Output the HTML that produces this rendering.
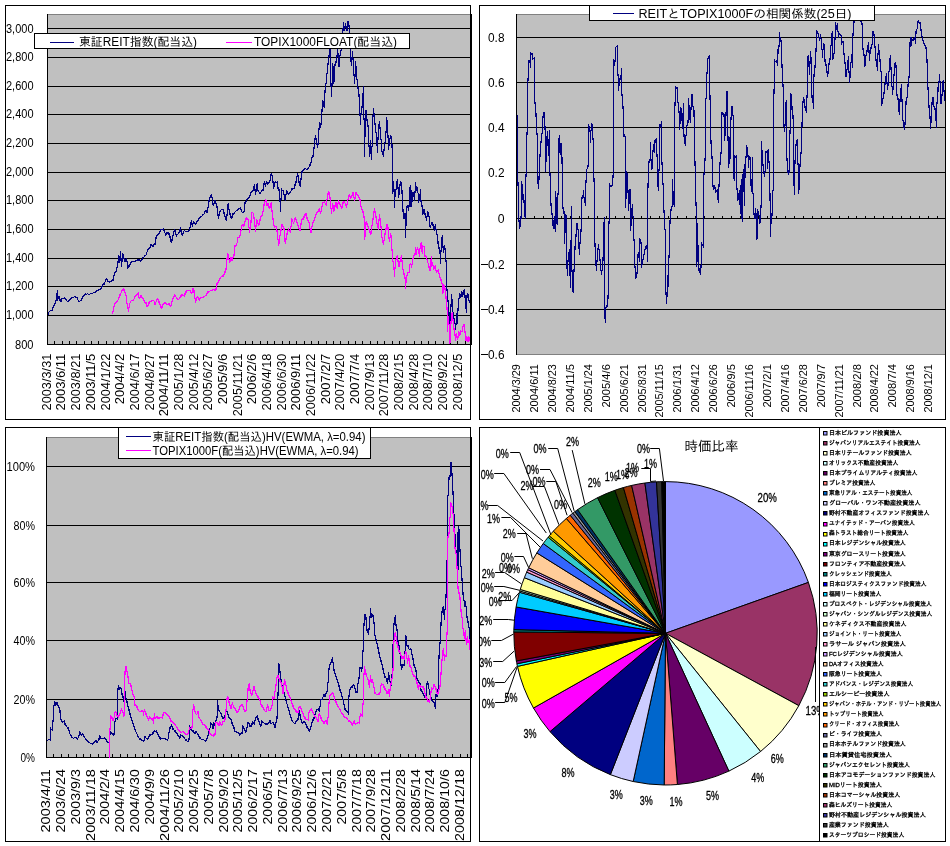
<!DOCTYPE html>
<html lang="ja">
<head>
<meta charset="utf-8">
<title>J-REIT チャート</title>
<style>
html,body{margin:0;padding:0;background:#fff;}
body{width:950px;height:846px;overflow:hidden;}
svg{display:block;font-family:"Liberation Sans","IPAGothic","Noto Sans CJK JP",sans-serif;}
</style>
</head>
<body>
<svg width="950" height="846" viewBox="0 0 950 846">
<rect x="0" y="0" width="950" height="846" fill="#fff"/>
<g id="chart1">
<rect x="5.5" y="5.5" width="465" height="414" fill="#fff" stroke="#000" stroke-width="1"/>
<rect x="47" y="14" width="424" height="331" fill="#c0c0c0"/>
<rect x="47" y="14" width="424" height="1" fill="#808080"/>
<rect x="470" y="5" width="1" height="415" fill="#000"/>
<rect x="471" y="14" width="1" height="331" fill="#000"/>
<rect x="47" y="28" width="424" height="1" fill="#000"/>
<text x="33.5" y="32.9" font-size="12" text-anchor="end" fill="#000" textLength="27.5" lengthAdjust="spacingAndGlyphs" >3,000</text>
<rect x="47" y="57" width="424" height="1" fill="#000"/>
<text x="33.5" y="61.1" font-size="12" text-anchor="end" fill="#000" textLength="27.5" lengthAdjust="spacingAndGlyphs" >2,800</text>
<rect x="47" y="86" width="424" height="1" fill="#000"/>
<text x="33.5" y="90.1" font-size="12" text-anchor="end" fill="#000" textLength="27.5" lengthAdjust="spacingAndGlyphs" >2,600</text>
<rect x="47" y="114" width="424" height="1" fill="#000"/>
<text x="33.5" y="118.1" font-size="12" text-anchor="end" fill="#000" textLength="27.5" lengthAdjust="spacingAndGlyphs" >2,400</text>
<rect x="47" y="143" width="424" height="1" fill="#000"/>
<text x="33.5" y="147.1" font-size="12" text-anchor="end" fill="#000" textLength="27.5" lengthAdjust="spacingAndGlyphs" >2,200</text>
<rect x="47" y="172" width="424" height="1" fill="#000"/>
<text x="33.5" y="176.1" font-size="12" text-anchor="end" fill="#000" textLength="27.5" lengthAdjust="spacingAndGlyphs" >2,000</text>
<rect x="47" y="200" width="424" height="1" fill="#000"/>
<text x="33.5" y="204.1" font-size="12" text-anchor="end" fill="#000" textLength="27.5" lengthAdjust="spacingAndGlyphs" >1,800</text>
<rect x="47" y="229" width="424" height="1" fill="#000"/>
<text x="33.5" y="233.1" font-size="12" text-anchor="end" fill="#000" textLength="27.5" lengthAdjust="spacingAndGlyphs" >1,600</text>
<rect x="47" y="258" width="424" height="1" fill="#000"/>
<text x="33.5" y="262.1" font-size="12" text-anchor="end" fill="#000" textLength="27.5" lengthAdjust="spacingAndGlyphs" >1,400</text>
<rect x="47" y="286" width="424" height="1" fill="#000"/>
<text x="33.5" y="290.1" font-size="12" text-anchor="end" fill="#000" textLength="27.5" lengthAdjust="spacingAndGlyphs" >1,200</text>
<rect x="47" y="315" width="424" height="1" fill="#000"/>
<text x="33.5" y="319.1" font-size="12" text-anchor="end" fill="#000" textLength="27.5" lengthAdjust="spacingAndGlyphs" >1,000</text>
<rect x="47" y="344" width="424" height="1" fill="#000"/>
<text x="33.5" y="349.0" font-size="12" text-anchor="end" fill="#000" textLength="18.5" lengthAdjust="spacingAndGlyphs" >800</text>
<rect x="47" y="14" width="1" height="331" fill="#000"/>
<rect x="54" y="341" width="1" height="3" fill="#000"/>
<rect x="62" y="341" width="1" height="3" fill="#000"/>
<rect x="69" y="341" width="1" height="3" fill="#000"/>
<rect x="76" y="341" width="1" height="3" fill="#000"/>
<rect x="84" y="341" width="1" height="3" fill="#000"/>
<rect x="91" y="341" width="1" height="3" fill="#000"/>
<rect x="98" y="341" width="1" height="3" fill="#000"/>
<rect x="106" y="341" width="1" height="3" fill="#000"/>
<rect x="113" y="341" width="1" height="3" fill="#000"/>
<rect x="120" y="341" width="1" height="3" fill="#000"/>
<rect x="128" y="341" width="1" height="3" fill="#000"/>
<rect x="135" y="341" width="1" height="3" fill="#000"/>
<rect x="142" y="341" width="1" height="3" fill="#000"/>
<rect x="150" y="341" width="1" height="3" fill="#000"/>
<rect x="157" y="341" width="1" height="3" fill="#000"/>
<rect x="164" y="341" width="1" height="3" fill="#000"/>
<rect x="172" y="341" width="1" height="3" fill="#000"/>
<rect x="179" y="341" width="1" height="3" fill="#000"/>
<rect x="186" y="341" width="1" height="3" fill="#000"/>
<rect x="194" y="341" width="1" height="3" fill="#000"/>
<rect x="201" y="341" width="1" height="3" fill="#000"/>
<rect x="208" y="341" width="1" height="3" fill="#000"/>
<rect x="216" y="341" width="1" height="3" fill="#000"/>
<rect x="223" y="341" width="1" height="3" fill="#000"/>
<rect x="230" y="341" width="1" height="3" fill="#000"/>
<rect x="238" y="341" width="1" height="3" fill="#000"/>
<rect x="245" y="341" width="1" height="3" fill="#000"/>
<rect x="252" y="341" width="1" height="3" fill="#000"/>
<rect x="260" y="341" width="1" height="3" fill="#000"/>
<rect x="267" y="341" width="1" height="3" fill="#000"/>
<rect x="274" y="341" width="1" height="3" fill="#000"/>
<rect x="282" y="341" width="1" height="3" fill="#000"/>
<rect x="289" y="341" width="1" height="3" fill="#000"/>
<rect x="296" y="341" width="1" height="3" fill="#000"/>
<rect x="304" y="341" width="1" height="3" fill="#000"/>
<rect x="311" y="341" width="1" height="3" fill="#000"/>
<rect x="318" y="341" width="1" height="3" fill="#000"/>
<rect x="326" y="341" width="1" height="3" fill="#000"/>
<rect x="333" y="341" width="1" height="3" fill="#000"/>
<rect x="340" y="341" width="1" height="3" fill="#000"/>
<rect x="348" y="341" width="1" height="3" fill="#000"/>
<rect x="355" y="341" width="1" height="3" fill="#000"/>
<rect x="362" y="341" width="1" height="3" fill="#000"/>
<rect x="370" y="341" width="1" height="3" fill="#000"/>
<rect x="377" y="341" width="1" height="3" fill="#000"/>
<rect x="384" y="341" width="1" height="3" fill="#000"/>
<rect x="392" y="341" width="1" height="3" fill="#000"/>
<rect x="399" y="341" width="1" height="3" fill="#000"/>
<rect x="406" y="341" width="1" height="3" fill="#000"/>
<rect x="414" y="341" width="1" height="3" fill="#000"/>
<rect x="421" y="341" width="1" height="3" fill="#000"/>
<rect x="428" y="341" width="1" height="3" fill="#000"/>
<rect x="435" y="341" width="1" height="3" fill="#000"/>
<rect x="443" y="341" width="1" height="3" fill="#000"/>
<rect x="450" y="341" width="1" height="3" fill="#000"/>
<rect x="457" y="341" width="1" height="3" fill="#000"/>
<rect x="465" y="341" width="1" height="3" fill="#000"/>
<text transform="translate(50.78,353.70) rotate(-90)" font-size="13" text-anchor="end" textLength="56.7" lengthAdjust="spacingAndGlyphs">2003/3/31</text>
<text transform="translate(65.46,353.70) rotate(-90)" font-size="13" text-anchor="end" textLength="56.7" lengthAdjust="spacingAndGlyphs">2003/6/11</text>
<text transform="translate(80.14,353.70) rotate(-90)" font-size="13" text-anchor="end" textLength="56.7" lengthAdjust="spacingAndGlyphs">2003/8/21</text>
<text transform="translate(94.82,353.70) rotate(-90)" font-size="13" text-anchor="end" textLength="56.7" lengthAdjust="spacingAndGlyphs">2003/11/5</text>
<text transform="translate(109.50,353.70) rotate(-90)" font-size="13" text-anchor="end" textLength="56.7" lengthAdjust="spacingAndGlyphs">2004/1/22</text>
<text transform="translate(124.18,353.70) rotate(-90)" font-size="13" text-anchor="end" textLength="50.5" lengthAdjust="spacingAndGlyphs">2004/4/2</text>
<text transform="translate(138.86,353.70) rotate(-90)" font-size="13" text-anchor="end" textLength="56.7" lengthAdjust="spacingAndGlyphs">2004/6/17</text>
<text transform="translate(153.54,353.70) rotate(-90)" font-size="13" text-anchor="end" textLength="56.7" lengthAdjust="spacingAndGlyphs">2004/8/27</text>
<text transform="translate(168.22,353.70) rotate(-90)" font-size="13" text-anchor="end" textLength="62.6" lengthAdjust="spacingAndGlyphs">2004/11/11</text>
<text transform="translate(182.90,353.70) rotate(-90)" font-size="13" text-anchor="end" textLength="56.7" lengthAdjust="spacingAndGlyphs">2005/1/28</text>
<text transform="translate(197.58,353.70) rotate(-90)" font-size="13" text-anchor="end" textLength="56.7" lengthAdjust="spacingAndGlyphs">2005/4/12</text>
<text transform="translate(212.26,353.70) rotate(-90)" font-size="13" text-anchor="end" textLength="56.7" lengthAdjust="spacingAndGlyphs">2005/6/27</text>
<text transform="translate(226.94,353.70) rotate(-90)" font-size="13" text-anchor="end" textLength="50.5" lengthAdjust="spacingAndGlyphs">2005/9/6</text>
<text transform="translate(241.62,353.70) rotate(-90)" font-size="13" text-anchor="end" textLength="62.6" lengthAdjust="spacingAndGlyphs">2005/11/21</text>
<text transform="translate(256.30,353.70) rotate(-90)" font-size="13" text-anchor="end" textLength="50.5" lengthAdjust="spacingAndGlyphs">2006/2/6</text>
<text transform="translate(270.98,353.70) rotate(-90)" font-size="13" text-anchor="end" textLength="56.7" lengthAdjust="spacingAndGlyphs">2006/4/18</text>
<text transform="translate(285.66,353.70) rotate(-90)" font-size="13" text-anchor="end" textLength="56.7" lengthAdjust="spacingAndGlyphs">2006/6/30</text>
<text transform="translate(300.34,353.70) rotate(-90)" font-size="13" text-anchor="end" textLength="56.7" lengthAdjust="spacingAndGlyphs">2006/9/11</text>
<text transform="translate(315.02,353.70) rotate(-90)" font-size="13" text-anchor="end" textLength="62.6" lengthAdjust="spacingAndGlyphs">2006/11/22</text>
<text transform="translate(329.70,353.70) rotate(-90)" font-size="13" text-anchor="end" textLength="50.5" lengthAdjust="spacingAndGlyphs">2007/2/7</text>
<text transform="translate(344.38,353.70) rotate(-90)" font-size="13" text-anchor="end" textLength="56.7" lengthAdjust="spacingAndGlyphs">2007/4/20</text>
<text transform="translate(359.06,353.70) rotate(-90)" font-size="13" text-anchor="end" textLength="50.5" lengthAdjust="spacingAndGlyphs">2007/7/4</text>
<text transform="translate(373.74,353.70) rotate(-90)" font-size="13" text-anchor="end" textLength="56.7" lengthAdjust="spacingAndGlyphs">2007/9/13</text>
<text transform="translate(388.42,353.70) rotate(-90)" font-size="13" text-anchor="end" textLength="62.6" lengthAdjust="spacingAndGlyphs">2007/11/28</text>
<text transform="translate(403.10,353.70) rotate(-90)" font-size="13" text-anchor="end" textLength="56.7" lengthAdjust="spacingAndGlyphs">2008/2/15</text>
<text transform="translate(417.78,353.70) rotate(-90)" font-size="13" text-anchor="end" textLength="56.7" lengthAdjust="spacingAndGlyphs">2008/4/28</text>
<text transform="translate(432.46,353.70) rotate(-90)" font-size="13" text-anchor="end" textLength="56.7" lengthAdjust="spacingAndGlyphs">2008/7/10</text>
<text transform="translate(447.14,353.70) rotate(-90)" font-size="13" text-anchor="end" textLength="56.7" lengthAdjust="spacingAndGlyphs">2008/9/22</text>
<text transform="translate(461.82,353.70) rotate(-90)" font-size="13" text-anchor="end" textLength="56.7" lengthAdjust="spacingAndGlyphs">2008/12/5</text>
<path d="M48 312v3h1v-3zM49 311v1h1v-1zM50 310v1h1v-1zM51 310v1h1v-1zM52 307v4h1v-4zM53 305v3h1v-3zM54 303v3h1v-3zM55 300v4h1v-4zM56 293v8h1v-8zM57 290v11h1v-11zM58 296v3h1v-3zM59 296v5h1v-5zM60 299v3h1v-3zM61 298v4h1v-4zM62 298v1h1v-1zM63 298v1h1v-1zM64 297v2h1v-2zM65 298v2h1v-2zM66 299v2h1v-2zM67 301v1h1v-1zM68 300v2h1v-2zM69 299v2h1v-2zM70 298v2h1v-2zM71 297v2h1v-2zM72 297v1h1v-1zM73 297v1h1v-1zM74 296v1h1v-1zM75 296v2h1v-2zM76 297v1h1v-1zM77 297v3h1v-3zM78 300v2h1v-2zM79 301v1h1v-1zM80 300v1h1v-1zM81 298v3h1v-3zM82 296v3h1v-3zM83 295v2h1v-2zM84 294v2h1v-2zM85 293v2h1v-2zM86 294v1h1v-1zM87 293v1h1v-1zM88 294v1h1v-1zM89 294v1h1v-1zM90 293v1h1v-1zM91 293v1h1v-1zM92 293v1h1v-1zM93 292v1h1v-1zM94 292v1h1v-1zM95 291v2h1v-2zM96 290v2h1v-2zM97 290v1h1v-1zM98 289v2h1v-2zM99 289v1h1v-1zM100 288v2h1v-2zM101 286v3h1v-3zM102 284v3h1v-3zM103 283v2h1v-2zM104 282v3h1v-3zM105 279v3h1v-3zM106 278v2h1v-2zM107 279v3h1v-3zM108 281v1h1v-1zM109 281v2h1v-2zM110 281v1h1v-1zM111 280v2h1v-2zM112 279v2h1v-2zM113 275v6h1v-6zM114 272v4h1v-4zM115 271v2h1v-2zM116 267v5h1v-5zM117 261v7h1v-7zM118 255v8h1v-8zM119 256v7h1v-7zM120 251v10h1v-10zM121 258v9h1v-9zM122 253v9h1v-9zM123 254v5h1v-5zM124 258v4h1v-4zM125 259v3h1v-3zM126 258v4h1v-4zM127 261v8h1v-8zM128 265v3h1v-3zM129 264v3h1v-3zM130 262v3h1v-3zM131 261v2h1v-2zM132 261v1h1v-1zM133 261v1h1v-1zM134 261v1h1v-1zM135 260v2h1v-2zM136 260v1h1v-1zM137 259v2h1v-2zM138 259v2h1v-2zM139 259v2h1v-2zM140 260v2h1v-2zM141 259v2h1v-2zM142 257v3h1v-3zM143 257v1h1v-1zM144 255v2h1v-2zM145 255v1h1v-1zM146 252v3h1v-3zM147 249v3h1v-3zM148 248v2h1v-2zM149 247v2h1v-2zM150 244v4h1v-4zM151 244v2h1v-2zM152 245v2h1v-2zM153 244v3h1v-3zM154 243v2h1v-2zM155 237v8h1v-8zM156 235v4h1v-4zM157 234v2h1v-2zM158 233v2h1v-2zM159 231v3h1v-3zM160 229v3h1v-3zM161 229v1h1v-1zM162 229v1h1v-1zM163 228v3h1v-3zM164 230v3h1v-3zM165 233v3h1v-3zM166 232v3h1v-3zM167 232v2h1v-2zM168 232v3h1v-3zM169 233v5h1v-5zM170 236v6h1v-6zM171 239v4h1v-4zM172 235v6h1v-6zM173 231v5h1v-5zM174 229v3h1v-3zM175 230v5h1v-5zM176 234v3h1v-3zM177 234v1h1v-1zM178 232v2h1v-2zM179 229v4h1v-4zM180 227v5h1v-5zM181 230v5h1v-5zM182 233v3h1v-3zM183 231v3h1v-3zM184 230v1h1v-1zM185 231v1h1v-1zM186 231v1h1v-1zM187 231v1h1v-1zM188 230v2h1v-2zM189 227v4h1v-4zM190 222v6h1v-6zM191 220v5h1v-5zM192 223v4h1v-4zM193 221v3h1v-3zM194 222v2h1v-2zM195 223v2h1v-2zM196 221v3h1v-3zM197 220v2h1v-2zM198 218v3h1v-3zM199 217v2h1v-2zM200 216v2h1v-2zM201 216v1h1v-1zM202 214v2h1v-2zM203 214v1h1v-1zM204 211v3h1v-3zM205 210v2h1v-2zM206 210v3h1v-3zM207 207v6h1v-6zM208 200v8h1v-8zM209 197v5h1v-5zM210 195v3h1v-3zM211 194v4h1v-4zM212 197v8h1v-8zM213 203v3h1v-3zM214 200v4h1v-4zM215 200v4h1v-4zM216 203v5h1v-5zM217 206v10h1v-10zM218 214v5h1v-5zM219 211v5h1v-5zM220 210v2h1v-2zM221 209v1h1v-1zM222 209v1h1v-1zM223 209v5h1v-5zM224 212v5h1v-5zM225 216v4h1v-4zM226 214v7h1v-7zM227 204v12h1v-12zM228 203v7h1v-7zM229 209v6h1v-6zM230 213v5h1v-5zM231 216v3h1v-3zM232 213v5h1v-5zM233 213v2h1v-2zM234 212v2h1v-2zM235 211v1h1v-1zM236 210v1h1v-1zM237 209v2h1v-2zM238 208v2h1v-2zM239 208v1h1v-1zM240 207v3h1v-3zM241 209v3h1v-3zM242 212v1h1v-1zM243 211v2h1v-2zM244 202v10h1v-10zM245 201v3h1v-3zM246 199v3h1v-3zM247 198v2h1v-2zM248 197v2h1v-2zM249 195v3h1v-3zM250 192v4h1v-4zM251 191v2h1v-2zM252 190v2h1v-2zM253 186v5h1v-5zM254 184v7h1v-7zM255 189v6h1v-6zM256 184v8h1v-8zM257 183v8h1v-8zM258 190v2h1v-2zM259 192v2h1v-2zM260 192v2h1v-2zM261 190v2h1v-2zM262 189v2h1v-2zM263 183v8h1v-8zM264 181v4h1v-4zM265 183v4h1v-4zM266 181v3h1v-3zM267 182v3h1v-3zM268 182v2h1v-2zM269 180v3h1v-3zM270 174v7h1v-7zM271 173v3h1v-3zM272 175v8h1v-8zM273 181v8h1v-8zM274 182v5h1v-5zM275 181v2h1v-2zM276 182v1h1v-1zM277 181v8h1v-8zM278 187v4h1v-4zM279 189v13h1v-13zM280 198v14h1v-14zM281 188v12h1v-12zM282 190v1h1v-1zM283 190v5h1v-5zM284 194v6h1v-6zM285 194v7h1v-7zM286 190v5h1v-5zM287 191v3h1v-3zM288 193v2h1v-2zM289 192v2h1v-2zM290 191v2h1v-2zM291 188v3h1v-3zM292 188v2h1v-2zM293 188v1h1v-1zM294 184v5h1v-5zM295 181v5h1v-5zM296 176v7h1v-7zM297 173v4h1v-4zM298 175v8h1v-8zM299 181v5h1v-5zM300 178v9h1v-9zM301 171v9h1v-9zM302 170v3h1v-3zM303 169v2h1v-2zM304 168v2h1v-2zM305 168v1h1v-1zM306 169v1h1v-1zM307 168v2h1v-2zM308 167v2h1v-2zM309 164v3h1v-3zM310 162v4h1v-4zM311 157v6h1v-6zM312 155v3h1v-3zM313 147v10h1v-10zM314 138v11h1v-11zM315 135v5h1v-5zM316 138v7h1v-7zM317 143v5h1v-5zM318 128v17h1v-17zM319 122v8h1v-8zM320 123v5h1v-5zM321 109v16h1v-16zM322 100v12h1v-12zM323 101v6h1v-6zM324 90v18h1v-18zM325 83v10h1v-10zM326 73v11h1v-11zM327 63v11h1v-11zM328 55v10h1v-10zM329 48v9h1v-9zM330 46v41h1v-41zM331 83v14h1v-14zM332 63v23h1v-23zM333 66v18h1v-18zM334 64v18h1v-18zM335 61v5h1v-5zM336 55v8h1v-8zM337 48v9h1v-9zM338 53v14h1v-14zM339 55v12h1v-12zM340 50v6h1v-6zM341 43v8h1v-8zM342 28v17h1v-17zM343 22v9h1v-9zM344 26v5h1v-5zM345 23v5h1v-5zM346 26v5h1v-5zM347 21v10h1v-10zM348 21v6h1v-6zM349 25v11h1v-11zM350 34v28h1v-28zM351 57v9h1v-9zM352 51v9h1v-9zM353 58v18h1v-18zM354 74v10h1v-10zM355 61v16h1v-16zM356 66v14h1v-14zM357 79v10h1v-10zM358 87v10h1v-10zM359 94v22h1v-22zM360 113v12h1v-12zM361 106v9h1v-9zM362 93v15h1v-15zM363 86v34h1v-34zM364 118v39h1v-39zM365 110v27h1v-27zM366 110v11h1v-11zM367 119v8h1v-8zM368 125v22h1v-22zM369 145v12h1v-12zM370 140v14h1v-14zM371 146v14h1v-14zM372 115v32h1v-32zM373 108v9h1v-9zM374 113v12h1v-12zM375 123v10h1v-10zM376 132v14h1v-14zM377 137v16h1v-16zM378 124v16h1v-16zM379 121v8h1v-8zM380 127v13h1v-13zM381 139v13h1v-13zM382 151v4h1v-4zM383 149v8h1v-8zM384 142v9h1v-9zM385 131v12h1v-12zM386 117v16h1v-16zM387 120v18h1v-18zM388 135v15h1v-15zM389 138v8h1v-8zM390 135v4h1v-4zM391 136v12h1v-12zM392 144v50h1v-50zM393 181v11h1v-11zM394 189v19h1v-19zM395 189v8h1v-8zM396 181v9h1v-9zM397 179v10h1v-10zM398 187v11h1v-11zM399 184v11h1v-11zM400 181v5h1v-5zM401 182v12h1v-12zM402 190v22h1v-22zM403 209v10h1v-10zM404 213v6h1v-6zM405 213v25h1v-25zM406 206v20h1v-20zM407 205v3h1v-3zM408 205v6h1v-6zM409 187v20h1v-20zM410 185v22h1v-22zM411 190v17h1v-17zM412 192v10h1v-10zM413 192v5h1v-5zM414 191v10h1v-10zM415 182v11h1v-11zM416 186v5h1v-5zM417 187v6h1v-6zM418 193v10h1v-10zM419 194v7h1v-7zM420 189v13h1v-13zM421 200v7h1v-7zM422 205v10h1v-10zM423 209v5h1v-5zM424 209v6h1v-6zM425 213v5h1v-5zM426 216v5h1v-5zM427 211v6h1v-6zM428 212v5h1v-5zM429 216v11h1v-11zM430 225v3h1v-3zM431 222v3h1v-3zM432 222v4h1v-4zM433 224v5h1v-5zM434 226v5h1v-5zM435 224v6h1v-6zM436 229v6h1v-6zM437 234v10h1v-10zM438 241v8h1v-8zM439 247v7h1v-7zM440 250v14h1v-14zM441 237v15h1v-15zM442 235v13h1v-13zM443 246v7h1v-7zM444 245v5h1v-5zM445 248v14h1v-14zM446 260v31h1v-31zM447 289v13h1v-13zM448 300v15h1v-15zM449 312v13h1v-13zM450 304v23h1v-23zM451 294v13h1v-13zM452 299v15h1v-15zM453 312v7h1v-7zM454 318v6h1v-6zM455 323v7h1v-7zM456 313v12h1v-12zM457 308v16h1v-16zM458 298v13h1v-13zM459 293v6h1v-6zM460 294v4h1v-4zM461 291v6h1v-6zM462 292v5h1v-5zM463 290v5h1v-5zM464 289v9h1v-9zM465 295v14h1v-14zM466 295v18h1v-18zM467 293v5h1v-5zM468 294v7h1v-7zM469 300v3h1v-3z" fill="#000080" shape-rendering="crispEdges"/>
<path d="M112 311v3h1v-3zM113 306v6h1v-6zM114 303v4h1v-4zM115 302v2h1v-2zM116 301v2h1v-2zM117 300v2h1v-2zM118 297v3h1v-3zM119 294v4h1v-4zM120 293v3h1v-3zM121 290v3h1v-3zM122 289v2h1v-2zM123 288v3h1v-3zM124 289v4h1v-4zM125 292v4h1v-4zM126 295v9h1v-9zM127 303v6h1v-6zM128 307v5h1v-5zM129 303v5h1v-5zM130 301v2h1v-2zM131 300v1h1v-1zM132 300v1h1v-1zM133 299v2h1v-2zM134 296v3h1v-3zM135 295v2h1v-2zM136 294v2h1v-2zM137 293v2h1v-2zM138 292v6h1v-6zM139 297v2h1v-2zM140 295v3h1v-3zM141 295v3h1v-3zM142 297v2h1v-2zM143 298v3h1v-3zM144 300v3h1v-3zM145 302v2h1v-2zM146 302v5h1v-5zM147 305v2h1v-2zM148 302v4h1v-4zM149 301v3h1v-3zM150 301v1h1v-1zM151 300v2h1v-2zM152 300v1h1v-1zM153 300v1h1v-1zM154 301v4h1v-4zM155 302v3h1v-3zM156 299v3h1v-3zM157 298v2h1v-2zM158 299v4h1v-4zM159 301v4h1v-4zM160 304v4h1v-4zM161 306v3h1v-3zM162 304v4h1v-4zM163 303v2h1v-2zM164 302v2h1v-2zM165 302v2h1v-2zM166 303v2h1v-2zM167 304v1h1v-1zM168 303v2h1v-2zM169 303v3h1v-3zM170 305v2h1v-2zM171 301v5h1v-5zM172 298v4h1v-4zM173 296v3h1v-3zM174 294v3h1v-3zM175 295v2h1v-2zM176 297v2h1v-2zM177 298v2h1v-2zM178 299v1h1v-1zM179 297v2h1v-2zM180 295v3h1v-3zM181 294v3h1v-3zM182 294v2h1v-2zM183 295v1h1v-1zM184 293v4h1v-4zM185 291v4h1v-4zM186 290v3h1v-3zM187 290v1h1v-1zM188 290v1h1v-1zM189 290v1h1v-1zM190 290v3h1v-3zM191 292v2h1v-2zM192 288v5h1v-5zM193 288v5h1v-5zM194 290v9h1v-9zM195 298v5h1v-5zM196 297v4h1v-4zM197 296v2h1v-2zM198 297v3h1v-3zM199 298v3h1v-3zM200 297v2h1v-2zM201 297v1h1v-1zM202 297v1h1v-1zM203 296v2h1v-2zM204 296v1h1v-1zM205 295v1h1v-1zM206 293v3h1v-3zM207 291v3h1v-3zM208 291v2h1v-2zM209 291v1h1v-1zM210 290v1h1v-1zM211 290v1h1v-1zM212 289v2h1v-2zM213 289v1h1v-1zM214 289v2h1v-2zM215 288v3h1v-3zM216 283v7h1v-7zM217 282v3h1v-3zM218 280v3h1v-3zM219 278v3h1v-3zM220 277v2h1v-2zM221 276v1h1v-1zM222 275v2h1v-2zM223 274v3h1v-3zM224 271v4h1v-4zM225 268v5h1v-5zM226 258v12h1v-12zM227 253v7h1v-7zM228 254v6h1v-6zM229 259v4h1v-4zM230 257v5h1v-5zM231 257v4h1v-4zM232 257v4h1v-4zM233 254v4h1v-4zM234 245v11h1v-11zM235 245v2h1v-2zM236 243v3h1v-3zM237 237v6h1v-6zM238 237v1h1v-1zM239 235v3h1v-3zM240 230v6h1v-6zM241 225v6h1v-6zM242 224v2h1v-2zM243 224v3h1v-3zM244 221v5h1v-5zM245 218v4h1v-4zM246 217v3h1v-3zM247 218v2h1v-2zM248 219v9h1v-9zM249 227v6h1v-6zM250 220v10h1v-10zM251 212v11h1v-11zM252 212v1h1v-1zM253 213v6h1v-6zM254 217v10h1v-10zM255 225v7h1v-7zM256 219v8h1v-8zM257 220v4h1v-4zM258 223v3h1v-3zM259 219v6h1v-6zM260 216v5h1v-5zM261 215v2h1v-2zM262 211v5h1v-5zM263 204v8h1v-8zM264 201v5h1v-5zM265 199v3h1v-3zM266 200v6h1v-6zM267 203v3h1v-3zM268 203v5h1v-5zM269 206v3h1v-3zM270 203v5h1v-5zM271 202v10h1v-10zM272 210v10h1v-10zM273 218v8h1v-8zM274 225v3h1v-3zM275 226v1h1v-1zM276 226v6h1v-6zM277 230v10h1v-10zM278 239v7h1v-7zM279 235v9h1v-9zM280 229v7h1v-7zM281 224v7h1v-7zM282 224v3h1v-3zM283 226v4h1v-4zM284 228v14h1v-14zM285 238v6h1v-6zM286 233v7h1v-7zM287 230v5h1v-5zM288 228v3h1v-3zM289 230v2h1v-2zM290 226v7h1v-7zM291 218v9h1v-9zM292 219v3h1v-3zM293 222v2h1v-2zM294 218v4h1v-4zM295 217v3h1v-3zM296 219v4h1v-4zM297 222v4h1v-4zM298 225v4h1v-4zM299 228v3h1v-3zM300 223v8h1v-8zM301 219v6h1v-6zM302 218v2h1v-2zM303 216v4h1v-4zM304 214v4h1v-4zM305 213v3h1v-3zM306 213v6h1v-6zM307 217v4h1v-4zM308 220v3h1v-3zM309 222v7h1v-7zM310 228v5h1v-5zM311 226v7h1v-7zM312 222v5h1v-5zM313 220v3h1v-3zM314 217v4h1v-4zM315 214v4h1v-4zM316 212v3h1v-3zM317 211v2h1v-2zM318 209v3h1v-3zM319 208v4h1v-4zM320 211v3h1v-3zM321 206v6h1v-6zM322 202v5h1v-5zM323 202v1h1v-1zM324 201v2h1v-2zM325 203v2h1v-2zM326 199v7h1v-7zM327 193v7h1v-7zM328 191v4h1v-4zM329 192v7h1v-7zM330 197v12h1v-12zM331 208v6h1v-6zM332 203v6h1v-6zM333 205v7h1v-7zM334 205v6h1v-6zM335 202v5h1v-5zM336 202v6h1v-6zM337 203v6h1v-6zM338 200v4h1v-4zM339 202v3h1v-3zM340 204v3h1v-3zM341 206v3h1v-3zM342 202v6h1v-6zM343 201v3h1v-3zM344 201v2h1v-2zM345 203v3h1v-3zM346 204v4h1v-4zM347 199v6h1v-6zM348 195v5h1v-5zM349 194v3h1v-3zM350 196v3h1v-3zM351 195v3h1v-3zM352 192v4h1v-4zM353 192v6h1v-6zM354 197v4h1v-4zM355 192v7h1v-7zM356 192v3h1v-3zM357 194v2h1v-2zM358 195v3h1v-3zM359 197v4h1v-4zM360 199v8h1v-8zM361 206v4h1v-4zM362 209v4h1v-4zM363 211v7h1v-7zM364 216v24h1v-24zM365 222v15h1v-15zM366 221v4h1v-4zM367 223v4h1v-4zM368 226v4h1v-4zM369 229v4h1v-4zM370 231v4h1v-4zM371 225v9h1v-9zM372 218v8h1v-8zM373 211v9h1v-9zM374 208v5h1v-5zM375 211v7h1v-7zM376 216v8h1v-8zM377 223v5h1v-5zM378 219v11h1v-11zM379 214v7h1v-7zM380 218v10h1v-10zM381 226v12h1v-12zM382 237v6h1v-6zM383 240v5h1v-5zM384 233v8h1v-8zM385 228v7h1v-7zM386 224v6h1v-6zM387 224v6h1v-6zM388 227v12h1v-12zM389 237v5h1v-5zM390 233v5h1v-5zM391 235v16h1v-16zM392 249v13h1v-13zM393 261v9h1v-9zM394 267v10h1v-10zM395 259v10h1v-10zM396 256v4h1v-4zM397 255v7h1v-7zM398 260v7h1v-7zM399 261v6h1v-6zM400 257v5h1v-5zM401 255v7h1v-7zM402 260v10h1v-10zM403 269v6h1v-6zM404 273v6h1v-6zM405 277v12h1v-12zM406 275v8h1v-8zM407 272v4h1v-4zM408 272v1h1v-1zM409 264v9h1v-9zM410 263v2h1v-2zM411 264v4h1v-4zM412 258v7h1v-7zM413 255v4h1v-4zM414 253v3h1v-3zM415 247v8h1v-8zM416 249v6h1v-6zM417 247v3h1v-3zM418 249v5h1v-5zM419 248v9h1v-9zM420 243v6h1v-6zM421 242v10h1v-10zM422 245v9h1v-9zM423 246v1h1v-1zM424 246v11h1v-11zM425 255v2h1v-2zM426 256v4h1v-4zM427 259v4h1v-4zM428 263v5h1v-5zM429 266v5h1v-5zM430 259v12h1v-12zM431 256v11h1v-11zM432 262v4h1v-4zM433 265v5h1v-5zM434 266v3h1v-3zM435 265v6h1v-6zM436 270v3h1v-3zM437 270v2h1v-2zM438 269v5h1v-5zM439 273v5h1v-5zM440 277v4h1v-4zM441 279v5h1v-5zM442 283v11h1v-11zM443 284v9h1v-9zM444 285v5h1v-5zM445 288v11h1v-11zM446 296v14h1v-14zM447 307v25h1v-25zM448 316v9h1v-9zM449 324v20h1v-20zM450 321v22h1v-22zM451 313v11h1v-11zM452 312v9h1v-9zM453 319v11h1v-11zM454 328v8h1v-8zM455 334v7h1v-7zM456 333v5h1v-5zM457 336v4h1v-4zM458 331v7h1v-7zM459 332v4h1v-4zM460 330v5h1v-5zM461 331v1h1v-1zM462 326v6h1v-6zM463 324v3h1v-3zM464 324v9h1v-9zM465 331v10h1v-10zM466 336v5h1v-5zM467 337v5h1v-5zM468 336v6h1v-6zM469 337v4h1v-4z" fill="#ff00ff" shape-rendering="crispEdges"/>
<rect x="34.5" y="33.5" width="375" height="15" fill="#fff" stroke="#000"/>
<rect x="50" y="42" width="24" height="1" fill="#000080"/>
<text x="79" y="45.6" font-size="12" text-anchor="start" fill="#000" textLength="118" lengthAdjust="spacingAndGlyphs" >東証REIT指数(配当込)</text>
<rect x="226" y="42" width="26" height="1" fill="#ff00ff"/>
<text x="254" y="45.6" font-size="12" text-anchor="start" fill="#000" textLength="143" lengthAdjust="spacingAndGlyphs" >TOPIX1000FLOAT(配当込)</text>
</g>
<g id="chart2">
<rect x="479.5" y="5.5" width="466" height="414" fill="#fff" stroke="#000" stroke-width="1"/>
<rect x="516" y="14" width="429" height="341" fill="#c0c0c0"/>
<rect x="516" y="14" width="429" height="1" fill="#808080"/>
<rect x="516" y="354" width="429" height="1" fill="#808080"/>
<rect x="516" y="37" width="429" height="1" fill="#000"/>
<text x="504.5" y="42.4" font-size="13" text-anchor="end" fill="#000" textLength="16.5" lengthAdjust="spacingAndGlyphs" >0.8</text>
<rect x="516" y="82" width="429" height="1" fill="#000"/>
<text x="504.5" y="87.4" font-size="13" text-anchor="end" fill="#000" textLength="16.5" lengthAdjust="spacingAndGlyphs" >0.6</text>
<rect x="516" y="127" width="429" height="1" fill="#000"/>
<text x="504.5" y="132.4" font-size="13" text-anchor="end" fill="#000" textLength="16.5" lengthAdjust="spacingAndGlyphs" >0.4</text>
<rect x="516" y="172" width="429" height="1" fill="#000"/>
<text x="504.5" y="177.4" font-size="13" text-anchor="end" fill="#000" textLength="16.5" lengthAdjust="spacingAndGlyphs" >0.2</text>
<rect x="516" y="218" width="429" height="1" fill="#000"/>
<text x="504.5" y="223.4" font-size="13" text-anchor="end" fill="#000" textLength="6.8" lengthAdjust="spacingAndGlyphs" >0</text>
<rect x="516" y="264" width="429" height="1" fill="#000"/>
<text x="504.5" y="269.4" font-size="13" text-anchor="end" fill="#000" textLength="16.5" lengthAdjust="spacingAndGlyphs" >0.2</text>
<rect x="481" y="264" width="7" height="1" fill="#000"/>
<rect x="516" y="309" width="429" height="1" fill="#000"/>
<text x="504.5" y="314.4" font-size="13" text-anchor="end" fill="#000" textLength="16.5" lengthAdjust="spacingAndGlyphs" >0.4</text>
<rect x="481" y="309" width="7" height="1" fill="#000"/>
<text x="504.5" y="359.4" font-size="13" text-anchor="end" fill="#000" textLength="16.5" lengthAdjust="spacingAndGlyphs" >0.6</text>
<rect x="481" y="354" width="7" height="1" fill="#000"/>
<rect x="516" y="14" width="1" height="341" fill="#000"/>
<rect x="525" y="216" width="1" height="2" fill="#000"/>
<rect x="534" y="216" width="1" height="2" fill="#000"/>
<rect x="543" y="216" width="1" height="2" fill="#000"/>
<rect x="552" y="216" width="1" height="2" fill="#000"/>
<rect x="561" y="216" width="1" height="2" fill="#000"/>
<rect x="570" y="216" width="1" height="2" fill="#000"/>
<rect x="579" y="216" width="1" height="2" fill="#000"/>
<rect x="588" y="216" width="1" height="2" fill="#000"/>
<rect x="597" y="216" width="1" height="2" fill="#000"/>
<rect x="606" y="216" width="1" height="2" fill="#000"/>
<rect x="615" y="216" width="1" height="2" fill="#000"/>
<rect x="624" y="216" width="1" height="2" fill="#000"/>
<rect x="632" y="216" width="1" height="2" fill="#000"/>
<rect x="641" y="216" width="1" height="2" fill="#000"/>
<rect x="650" y="216" width="1" height="2" fill="#000"/>
<rect x="659" y="216" width="1" height="2" fill="#000"/>
<rect x="668" y="216" width="1" height="2" fill="#000"/>
<rect x="677" y="216" width="1" height="2" fill="#000"/>
<rect x="686" y="216" width="1" height="2" fill="#000"/>
<rect x="695" y="216" width="1" height="2" fill="#000"/>
<rect x="704" y="216" width="1" height="2" fill="#000"/>
<rect x="713" y="216" width="1" height="2" fill="#000"/>
<rect x="722" y="216" width="1" height="2" fill="#000"/>
<rect x="731" y="216" width="1" height="2" fill="#000"/>
<rect x="740" y="216" width="1" height="2" fill="#000"/>
<rect x="749" y="216" width="1" height="2" fill="#000"/>
<rect x="758" y="216" width="1" height="2" fill="#000"/>
<rect x="767" y="216" width="1" height="2" fill="#000"/>
<rect x="776" y="216" width="1" height="2" fill="#000"/>
<rect x="785" y="216" width="1" height="2" fill="#000"/>
<rect x="794" y="216" width="1" height="2" fill="#000"/>
<rect x="803" y="216" width="1" height="2" fill="#000"/>
<rect x="812" y="216" width="1" height="2" fill="#000"/>
<rect x="821" y="216" width="1" height="2" fill="#000"/>
<rect x="830" y="216" width="1" height="2" fill="#000"/>
<rect x="839" y="216" width="1" height="2" fill="#000"/>
<rect x="848" y="216" width="1" height="2" fill="#000"/>
<rect x="856" y="216" width="1" height="2" fill="#000"/>
<rect x="865" y="216" width="1" height="2" fill="#000"/>
<rect x="874" y="216" width="1" height="2" fill="#000"/>
<rect x="883" y="216" width="1" height="2" fill="#000"/>
<rect x="892" y="216" width="1" height="2" fill="#000"/>
<rect x="901" y="216" width="1" height="2" fill="#000"/>
<rect x="910" y="216" width="1" height="2" fill="#000"/>
<rect x="919" y="216" width="1" height="2" fill="#000"/>
<rect x="928" y="216" width="1" height="2" fill="#000"/>
<rect x="937" y="216" width="1" height="2" fill="#000"/>
<text transform="translate(520.06,364.10) rotate(-90)" font-size="11" text-anchor="end" textLength="48.5" lengthAdjust="spacingAndGlyphs">2004/3/29</text>
<text transform="translate(537.98,364.10) rotate(-90)" font-size="11" text-anchor="end" textLength="48.5" lengthAdjust="spacingAndGlyphs">2004/6/11</text>
<text transform="translate(555.90,364.10) rotate(-90)" font-size="11" text-anchor="end" textLength="48.5" lengthAdjust="spacingAndGlyphs">2004/8/23</text>
<text transform="translate(573.82,364.10) rotate(-90)" font-size="11" text-anchor="end" textLength="48.5" lengthAdjust="spacingAndGlyphs">2004/11/5</text>
<text transform="translate(591.74,364.10) rotate(-90)" font-size="11" text-anchor="end" textLength="48.5" lengthAdjust="spacingAndGlyphs">2005/1/24</text>
<text transform="translate(609.66,364.10) rotate(-90)" font-size="11" text-anchor="end" textLength="43.5" lengthAdjust="spacingAndGlyphs">2005/4/6</text>
<text transform="translate(627.58,364.10) rotate(-90)" font-size="11" text-anchor="end" textLength="48.5" lengthAdjust="spacingAndGlyphs">2005/6/21</text>
<text transform="translate(645.50,364.10) rotate(-90)" font-size="11" text-anchor="end" textLength="48.5" lengthAdjust="spacingAndGlyphs">2005/8/31</text>
<text transform="translate(663.42,364.10) rotate(-90)" font-size="11" text-anchor="end" textLength="53.5" lengthAdjust="spacingAndGlyphs">2005/11/15</text>
<text transform="translate(681.34,364.10) rotate(-90)" font-size="11" text-anchor="end" textLength="48.5" lengthAdjust="spacingAndGlyphs">2006/1/31</text>
<text transform="translate(699.26,364.10) rotate(-90)" font-size="11" text-anchor="end" textLength="48.5" lengthAdjust="spacingAndGlyphs">2006/4/12</text>
<text transform="translate(717.18,364.10) rotate(-90)" font-size="11" text-anchor="end" textLength="48.5" lengthAdjust="spacingAndGlyphs">2006/6/26</text>
<text transform="translate(735.10,364.10) rotate(-90)" font-size="11" text-anchor="end" textLength="43.5" lengthAdjust="spacingAndGlyphs">2006/9/5</text>
<text transform="translate(753.02,364.10) rotate(-90)" font-size="11" text-anchor="end" textLength="53.5" lengthAdjust="spacingAndGlyphs">2006/11/16</text>
<text transform="translate(770.94,364.10) rotate(-90)" font-size="11" text-anchor="end" textLength="43.5" lengthAdjust="spacingAndGlyphs">2007/2/1</text>
<text transform="translate(788.86,364.10) rotate(-90)" font-size="11" text-anchor="end" textLength="48.5" lengthAdjust="spacingAndGlyphs">2007/4/16</text>
<text transform="translate(806.78,364.10) rotate(-90)" font-size="11" text-anchor="end" textLength="48.5" lengthAdjust="spacingAndGlyphs">2007/6/28</text>
<text transform="translate(824.70,364.10) rotate(-90)" font-size="11" text-anchor="end" textLength="43.5" lengthAdjust="spacingAndGlyphs">2007/9/7</text>
<text transform="translate(842.62,364.10) rotate(-90)" font-size="11" text-anchor="end" textLength="53.5" lengthAdjust="spacingAndGlyphs">2007/11/21</text>
<text transform="translate(860.54,364.10) rotate(-90)" font-size="11" text-anchor="end" textLength="43.5" lengthAdjust="spacingAndGlyphs">2008/2/8</text>
<text transform="translate(878.46,364.10) rotate(-90)" font-size="11" text-anchor="end" textLength="48.5" lengthAdjust="spacingAndGlyphs">2008/4/22</text>
<text transform="translate(896.38,364.10) rotate(-90)" font-size="11" text-anchor="end" textLength="43.5" lengthAdjust="spacingAndGlyphs">2008/7/4</text>
<text transform="translate(914.30,364.10) rotate(-90)" font-size="11" text-anchor="end" textLength="48.5" lengthAdjust="spacingAndGlyphs">2008/9/16</text>
<text transform="translate(932.22,364.10) rotate(-90)" font-size="11" text-anchor="end" textLength="48.5" lengthAdjust="spacingAndGlyphs">2008/12/1</text>
<path d="M517 115v71h1v-71zM518 182v40h1v-40zM519 220v9h1v-9zM520 216v11h1v-11zM521 181v38h1v-38zM522 184v16h1v-16zM523 194v9h1v-9zM524 200v17h1v-17zM525 174v45h1v-45zM526 132v45h1v-45zM527 78v57h1v-57zM528 60v21h1v-21zM529 60v3h1v-3zM530 52v16h1v-16zM531 53v2h1v-2zM532 53v7h1v-7zM533 58v1h1v-1zM534 57v47h1v-47zM535 102v15h1v-15zM536 113v22h1v-22zM537 133v51h1v-51zM538 176v13h1v-13zM539 154v26h1v-26zM540 141v16h1v-16zM541 133v10h1v-10zM542 116v18h1v-18zM543 112v6h1v-6zM544 112v18h1v-18zM545 126v46h1v-46zM546 136v26h1v-26zM547 131v15h1v-15zM548 139v17h1v-17zM549 130v46h1v-46zM550 173v33h1v-33zM551 203v12h1v-12zM552 213v13h1v-13zM553 220v9h1v-9zM554 216v13h1v-13zM555 191v41h1v-41zM556 197v27h1v-27zM557 193v32h1v-32zM558 138v57h1v-57zM559 135v18h1v-18zM560 143v12h1v-12zM561 143v21h1v-21zM562 157v52h1v-52zM563 207v7h1v-7zM564 211v33h1v-33zM565 214v19h1v-19zM566 215v54h1v-54zM567 260v16h1v-16zM568 252v10h1v-10zM569 249v27h1v-27zM570 240v48h1v-48zM571 206v66h1v-66zM572 270v22h1v-22zM573 269v24h1v-24zM574 246v26h1v-26zM575 234v16h1v-16zM576 223v14h1v-14zM577 223v7h1v-7zM578 229v20h1v-20zM579 242v13h1v-13zM580 229v15h1v-15zM581 197v35h1v-35zM582 195v4h1v-4zM583 190v8h1v-8zM584 197v6h1v-6zM585 180v26h1v-26zM586 169v14h1v-14zM587 165v4h1v-4zM588 124v43h1v-43zM589 126v6h1v-6zM590 130v13h1v-13zM591 123v8h1v-8zM592 124v16h1v-16zM593 138v44h1v-44zM594 178v69h1v-69zM595 243v23h1v-23zM596 260v11h1v-11zM597 248v14h1v-14zM598 244v6h1v-6zM599 249v12h1v-12zM600 259v12h1v-12zM601 270v5h1v-5zM602 257v14h1v-14zM603 222v39h1v-39zM604 217v102h1v-102zM605 307v16h1v-16zM606 305v3h1v-3zM607 295v12h1v-12zM608 221v78h1v-78zM609 183v41h1v-41zM610 185v2h1v-2zM611 185v2h1v-2zM612 175v11h1v-11zM613 59v119h1v-119zM614 60v6h1v-6zM615 47v15h1v-15zM616 46v1h1v-1zM617 45v31h1v-31zM618 74v17h1v-17zM619 78v8h1v-8zM620 75v5h1v-5zM621 68v28h1v-28zM622 94v15h1v-15zM623 106v31h1v-31zM624 134v3h1v-3zM625 136v72h1v-72zM626 171v28h1v-28zM627 173v20h1v-20zM628 190v21h1v-21zM629 189v15h1v-15zM630 189v42h1v-42zM631 208v18h1v-18zM632 204v13h1v-13zM633 216v25h1v-25zM634 239v29h1v-29zM635 266v13h1v-13zM636 272v6h1v-6zM637 254v20h1v-20zM638 252v6h1v-6zM639 238v24h1v-24zM640 239v5h1v-5zM641 242v26h1v-26zM642 259v6h1v-6zM643 254v6h1v-6zM644 249v6h1v-6zM645 246v4h1v-4zM646 245v4h1v-4zM647 183v79h1v-79zM648 161v27h1v-27zM649 159v4h1v-4zM650 142v19h1v-19zM651 159v11h1v-11zM652 150v19h1v-19zM653 144v8h1v-8zM654 140v13h1v-13zM655 139v4h1v-4zM656 138v19h1v-19zM657 154v33h1v-33zM658 169v22h1v-22zM659 124v47h1v-47zM660 124v3h1v-3zM661 121v44h1v-44zM662 162v23h1v-23zM663 183v30h1v-30zM664 210v20h1v-20zM665 229v66h1v-66zM666 292v12h1v-12zM667 275v22h1v-22zM668 255v32h1v-32zM669 220v38h1v-38zM670 209v15h1v-15zM671 206v5h1v-5zM672 179v28h1v-28zM673 191v14h1v-14zM674 102v105h1v-105zM675 86v20h1v-20zM676 87v2h1v-2zM677 87v16h1v-16zM678 102v11h1v-11zM679 111v19h1v-19zM680 107v17h1v-17zM681 108v13h1v-13zM682 113v16h1v-16zM683 103v34h1v-34zM684 134v10h1v-10zM685 135v11h1v-11zM686 125v11h1v-11zM687 120v6h1v-6zM688 98v25h1v-25zM689 105v15h1v-15zM690 107v16h1v-16zM691 94v16h1v-16zM692 94v13h1v-13zM693 106v11h1v-11zM694 110v56h1v-56zM695 161v45h1v-45zM696 202v65h1v-65zM697 223v39h1v-39zM698 245v26h1v-26zM699 268v5h1v-5zM700 265v10h1v-10zM701 242v26h1v-26zM702 244v2h1v-2zM703 173v75h1v-75zM704 158v17h1v-17zM705 98v63h1v-63zM706 72v27h1v-27zM707 58v16h1v-16zM708 56v3h1v-3zM709 55v45h1v-45zM710 95v49h1v-49zM711 140v19h1v-19zM712 156v31h1v-31zM713 185v5h1v-5zM714 185v4h1v-4zM715 187v6h1v-6zM716 190v2h1v-2zM717 189v11h1v-11zM718 184v19h1v-19zM719 162v25h1v-25zM720 152v13h1v-13zM721 112v42h1v-42zM722 112v3h1v-3zM723 113v4h1v-4zM724 114v27h1v-27zM725 112v24h1v-24zM726 91v25h1v-25zM727 91v50h1v-50zM728 136v32h1v-32zM729 137v27h1v-27zM730 117v42h1v-42zM731 106v14h1v-14zM732 106v10h1v-10zM733 115v64h1v-64zM734 155v26h1v-26zM735 156v2h1v-2zM736 155v35h1v-35zM737 188v13h1v-13zM738 193v7h1v-7zM739 190v15h1v-15zM740 185v29h1v-29zM741 179v40h1v-40zM742 174v48h1v-48zM743 169v23h1v-23zM744 164v42h1v-42zM745 156v22h1v-22zM746 145v13h1v-13zM747 147v10h1v-10zM748 155v13h1v-13zM749 156v4h1v-4zM750 157v29h1v-29zM751 179v13h1v-13zM752 157v37h1v-37zM753 193v22h1v-22zM754 213v6h1v-6zM755 208v11h1v-11zM756 213v27h1v-27zM757 209v30h1v-30zM758 211v5h1v-5zM759 215v9h1v-9zM760 205v18h1v-18zM761 141v67h1v-67zM762 150v16h1v-16zM763 164v10h1v-10zM764 171v6h1v-6zM765 151v21h1v-21zM766 151v2h1v-2zM767 150v19h1v-19zM768 149v14h1v-14zM769 161v40h1v-40zM770 193v44h1v-44zM771 213v11h1v-11zM772 190v26h1v-26zM773 89v102h1v-102zM774 59v35h1v-35zM775 61v1h1v-1zM776 60v3h1v-3zM777 49v17h1v-17zM778 45v9h1v-9zM779 32v15h1v-15zM780 37v5h1v-5zM781 40v28h1v-28zM782 64v23h1v-23zM783 84v43h1v-43zM784 124v8h1v-8zM785 102v24h1v-24zM786 100v61h1v-61zM787 158v15h1v-15zM788 170v5h1v-5zM789 130v43h1v-43zM790 93v41h1v-41zM791 94v16h1v-16zM792 106v13h1v-13zM793 115v71h1v-71zM794 160v35h1v-35zM795 144v20h1v-20zM796 140v6h1v-6zM797 139v26h1v-26zM798 163v31h1v-31zM799 164v26h1v-26zM800 152v15h1v-15zM801 122v32h1v-32zM802 101v26h1v-26zM803 97v6h1v-6zM804 99v9h1v-9zM805 106v5h1v-5zM806 95v18h1v-18zM807 56v42h1v-42zM808 55v12h1v-12zM809 61v14h1v-14zM810 51v13h1v-13zM811 57v41h1v-41zM812 95v8h1v-8zM813 74v35h1v-35zM814 65v12h1v-12zM815 48v20h1v-20zM816 30v22h1v-22zM817 31v3h1v-3zM818 33v5h1v-5zM819 37v4h1v-4zM820 34v5h1v-5zM821 38v12h1v-12zM822 49v9h1v-9zM823 43v7h1v-7zM824 44v18h1v-18zM825 59v7h1v-7zM826 64v9h1v-9zM827 71v6h1v-6zM828 63v11h1v-11zM829 58v7h1v-7zM830 45v15h1v-15zM831 33v13h1v-13zM832 31v29h1v-29zM833 53v6h1v-6zM834 37v17h1v-17zM835 22v18h1v-18zM836 25v5h1v-5zM837 23v9h1v-9zM838 31v7h1v-7zM839 33v2h1v-2zM840 34v2h1v-2zM841 35v10h1v-10zM842 41v2h1v-2zM843 41v14h1v-14zM844 53v11h1v-11zM845 62v15h1v-15zM846 69v8h1v-8zM847 60v10h1v-10zM848 56v17h1v-17zM849 71v12h1v-12zM850 62v16h1v-16zM851 54v9h1v-9zM852 33v35h1v-35zM853 21v15h1v-15zM854 17v6h1v-6zM855 15v3h1v-3zM856 15v1h1v-1zM857 15v1h1v-1zM858 15v1h1v-1zM859 15v1h1v-1zM860 15v7h1v-7zM861 20v5h1v-5zM862 23v27h1v-27zM863 48v8h1v-8zM864 54v13h1v-13zM865 55v11h1v-11zM866 50v6h1v-6zM867 45v7h1v-7zM868 42v11h1v-11zM869 50v11h1v-11zM870 47v7h1v-7zM871 44v5h1v-5zM872 31v14h1v-14zM873 31v5h1v-5zM874 34v14h1v-14zM875 46v15h1v-15zM876 59v8h1v-8zM877 53v18h1v-18zM878 44v11h1v-11zM879 50v12h1v-12zM880 59v13h1v-13zM881 71v35h1v-35zM882 98v6h1v-6zM883 92v7h1v-7zM884 83v11h1v-11zM885 76v9h1v-9zM886 73v11h1v-11zM887 82v8h1v-8zM888 71v15h1v-15zM889 58v14h1v-14zM890 55v15h1v-15zM891 67v20h1v-20zM892 86v9h1v-9zM893 74v16h1v-16zM894 63v13h1v-13zM895 62v6h1v-6zM896 65v31h1v-31zM897 94v6h1v-6zM898 98v14h1v-14zM899 99v16h1v-16zM900 88v14h1v-14zM901 84v18h1v-18zM902 99v22h1v-22zM903 120v8h1v-8zM904 122v8h1v-8zM905 101v24h1v-24zM906 97v8h1v-8zM907 84v14h1v-14zM908 76v11h1v-11zM909 42v36h1v-36zM910 37v10h1v-10zM911 37v9h1v-9zM912 39v2h1v-2zM913 38v3h1v-3zM914 37v3h1v-3zM915 31v13h1v-13zM916 29v5h1v-5zM917 21v8h1v-8zM918 20v3h1v-3zM919 22v2h1v-2zM920 22v9h1v-9zM921 29v8h1v-8zM922 36v5h1v-5zM923 40v4h1v-4zM924 43v3h1v-3zM925 45v4h1v-4zM926 47v16h1v-16zM927 59v31h1v-31zM928 87v21h1v-21zM929 105v14h1v-14zM930 116v13h1v-13zM931 102v21h1v-21zM932 97v8h1v-8zM933 97v10h1v-10zM934 106v4h1v-4zM935 108v13h1v-13zM936 102v26h1v-26zM937 87v17h1v-17zM938 81v11h1v-11zM939 74v9h1v-9zM940 81v23h1v-23zM941 94v10h1v-10zM942 81v15h1v-15zM943 80v12h1v-12zM944 90v11h1v-11z" fill="#000080" shape-rendering="crispEdges"/>
<rect x="589.5" y="5.5" width="285" height="15" fill="#fff" stroke="#000"/>
<rect x="613" y="13" width="21" height="1" fill="#000080"/>
<text x="638.5" y="17.6" font-size="12" text-anchor="start" fill="#000" textLength="213" lengthAdjust="spacingAndGlyphs" >REITとTOPIX1000Fの相関係数(25日)</text>
</g>
<g id="chart3">
<rect x="5.5" y="427.5" width="465" height="414" fill="#fff" stroke="#000" stroke-width="1"/>
<rect x="46" y="437" width="425" height="321" fill="#c0c0c0"/>
<rect x="46" y="437" width="425" height="1" fill="#808080"/>
<rect x="470" y="427" width="1" height="415" fill="#000"/>
<rect x="471" y="437" width="1" height="321" fill="#000"/>
<rect x="46" y="466" width="425" height="1" fill="#000"/>
<text x="35" y="471.2" font-size="13" text-anchor="end" fill="#000" textLength="28.5" lengthAdjust="spacingAndGlyphs" >100%</text>
<rect x="46" y="525" width="425" height="1" fill="#000"/>
<text x="35" y="530.2" font-size="13" text-anchor="end" fill="#000" textLength="21.5" lengthAdjust="spacingAndGlyphs" >80%</text>
<rect x="46" y="582" width="425" height="1" fill="#000"/>
<text x="35" y="587.2" font-size="13" text-anchor="end" fill="#000" textLength="21.5" lengthAdjust="spacingAndGlyphs" >60%</text>
<rect x="46" y="640" width="425" height="1" fill="#000"/>
<text x="35" y="645.2" font-size="13" text-anchor="end" fill="#000" textLength="21.5" lengthAdjust="spacingAndGlyphs" >40%</text>
<rect x="46" y="699" width="425" height="1" fill="#000"/>
<text x="35" y="704.2" font-size="13" text-anchor="end" fill="#000" textLength="21.5" lengthAdjust="spacingAndGlyphs" >20%</text>
<rect x="46" y="757" width="425" height="1" fill="#000"/>
<text x="35" y="762.2" font-size="13" text-anchor="end" fill="#000" textLength="14.5" lengthAdjust="spacingAndGlyphs" >0%</text>
<rect x="46" y="437" width="1" height="321" fill="#000"/>
<rect x="53" y="754" width="1" height="3" fill="#000"/>
<rect x="61" y="754" width="1" height="3" fill="#000"/>
<rect x="68" y="754" width="1" height="3" fill="#000"/>
<rect x="76" y="754" width="1" height="3" fill="#000"/>
<rect x="83" y="754" width="1" height="3" fill="#000"/>
<rect x="90" y="754" width="1" height="3" fill="#000"/>
<rect x="98" y="754" width="1" height="3" fill="#000"/>
<rect x="105" y="754" width="1" height="3" fill="#000"/>
<rect x="112" y="754" width="1" height="3" fill="#000"/>
<rect x="120" y="754" width="1" height="3" fill="#000"/>
<rect x="127" y="754" width="1" height="3" fill="#000"/>
<rect x="135" y="754" width="1" height="3" fill="#000"/>
<rect x="142" y="754" width="1" height="3" fill="#000"/>
<rect x="149" y="754" width="1" height="3" fill="#000"/>
<rect x="157" y="754" width="1" height="3" fill="#000"/>
<rect x="164" y="754" width="1" height="3" fill="#000"/>
<rect x="172" y="754" width="1" height="3" fill="#000"/>
<rect x="179" y="754" width="1" height="3" fill="#000"/>
<rect x="186" y="754" width="1" height="3" fill="#000"/>
<rect x="194" y="754" width="1" height="3" fill="#000"/>
<rect x="201" y="754" width="1" height="3" fill="#000"/>
<rect x="208" y="754" width="1" height="3" fill="#000"/>
<rect x="216" y="754" width="1" height="3" fill="#000"/>
<rect x="223" y="754" width="1" height="3" fill="#000"/>
<rect x="231" y="754" width="1" height="3" fill="#000"/>
<rect x="238" y="754" width="1" height="3" fill="#000"/>
<rect x="245" y="754" width="1" height="3" fill="#000"/>
<rect x="253" y="754" width="1" height="3" fill="#000"/>
<rect x="260" y="754" width="1" height="3" fill="#000"/>
<rect x="268" y="754" width="1" height="3" fill="#000"/>
<rect x="275" y="754" width="1" height="3" fill="#000"/>
<rect x="282" y="754" width="1" height="3" fill="#000"/>
<rect x="290" y="754" width="1" height="3" fill="#000"/>
<rect x="297" y="754" width="1" height="3" fill="#000"/>
<rect x="304" y="754" width="1" height="3" fill="#000"/>
<rect x="312" y="754" width="1" height="3" fill="#000"/>
<rect x="319" y="754" width="1" height="3" fill="#000"/>
<rect x="327" y="754" width="1" height="3" fill="#000"/>
<rect x="334" y="754" width="1" height="3" fill="#000"/>
<rect x="341" y="754" width="1" height="3" fill="#000"/>
<rect x="349" y="754" width="1" height="3" fill="#000"/>
<rect x="356" y="754" width="1" height="3" fill="#000"/>
<rect x="364" y="754" width="1" height="3" fill="#000"/>
<rect x="371" y="754" width="1" height="3" fill="#000"/>
<rect x="378" y="754" width="1" height="3" fill="#000"/>
<rect x="386" y="754" width="1" height="3" fill="#000"/>
<rect x="393" y="754" width="1" height="3" fill="#000"/>
<rect x="400" y="754" width="1" height="3" fill="#000"/>
<rect x="408" y="754" width="1" height="3" fill="#000"/>
<rect x="415" y="754" width="1" height="3" fill="#000"/>
<rect x="423" y="754" width="1" height="3" fill="#000"/>
<rect x="430" y="754" width="1" height="3" fill="#000"/>
<rect x="437" y="754" width="1" height="3" fill="#000"/>
<rect x="445" y="754" width="1" height="3" fill="#000"/>
<rect x="452" y="754" width="1" height="3" fill="#000"/>
<rect x="460" y="754" width="1" height="3" fill="#000"/>
<rect x="467" y="754" width="1" height="3" fill="#000"/>
<text transform="translate(50.36,769.10) rotate(-90)" font-size="13.5" text-anchor="end" textLength="63.4" lengthAdjust="spacingAndGlyphs">2003/4/11</text>
<text transform="translate(65.13,769.10) rotate(-90)" font-size="13.5" text-anchor="end" textLength="63.4" lengthAdjust="spacingAndGlyphs">2003/6/24</text>
<text transform="translate(79.90,769.10) rotate(-90)" font-size="13.5" text-anchor="end" textLength="55.5" lengthAdjust="spacingAndGlyphs">2003/9/3</text>
<text transform="translate(94.67,769.10) rotate(-90)" font-size="13.5" text-anchor="end" textLength="71.8" lengthAdjust="spacingAndGlyphs">2003/11/18</text>
<text transform="translate(109.44,769.10) rotate(-90)" font-size="13.5" text-anchor="end" textLength="55.5" lengthAdjust="spacingAndGlyphs">2004/2/4</text>
<text transform="translate(124.21,769.10) rotate(-90)" font-size="13.5" text-anchor="end" textLength="63.4" lengthAdjust="spacingAndGlyphs">2004/4/15</text>
<text transform="translate(138.98,769.10) rotate(-90)" font-size="13.5" text-anchor="end" textLength="63.4" lengthAdjust="spacingAndGlyphs">2004/6/30</text>
<text transform="translate(153.75,769.10) rotate(-90)" font-size="13.5" text-anchor="end" textLength="55.5" lengthAdjust="spacingAndGlyphs">2004/9/9</text>
<text transform="translate(168.52,769.10) rotate(-90)" font-size="13.5" text-anchor="end" textLength="71.8" lengthAdjust="spacingAndGlyphs">2004/11/26</text>
<text transform="translate(183.29,769.10) rotate(-90)" font-size="13.5" text-anchor="end" textLength="63.4" lengthAdjust="spacingAndGlyphs">2005/2/10</text>
<text transform="translate(198.06,769.10) rotate(-90)" font-size="13.5" text-anchor="end" textLength="63.4" lengthAdjust="spacingAndGlyphs">2005/4/25</text>
<text transform="translate(212.83,769.10) rotate(-90)" font-size="13.5" text-anchor="end" textLength="55.5" lengthAdjust="spacingAndGlyphs">2005/7/8</text>
<text transform="translate(227.60,769.10) rotate(-90)" font-size="13.5" text-anchor="end" textLength="63.4" lengthAdjust="spacingAndGlyphs">2005/9/20</text>
<text transform="translate(242.37,769.10) rotate(-90)" font-size="13.5" text-anchor="end" textLength="63.4" lengthAdjust="spacingAndGlyphs">2005/12/5</text>
<text transform="translate(257.14,769.10) rotate(-90)" font-size="13.5" text-anchor="end" textLength="63.4" lengthAdjust="spacingAndGlyphs">2006/2/17</text>
<text transform="translate(271.91,769.10) rotate(-90)" font-size="13.5" text-anchor="end" textLength="55.5" lengthAdjust="spacingAndGlyphs">2006/5/1</text>
<text transform="translate(286.68,769.10) rotate(-90)" font-size="13.5" text-anchor="end" textLength="63.4" lengthAdjust="spacingAndGlyphs">2006/7/13</text>
<text transform="translate(301.45,769.10) rotate(-90)" font-size="13.5" text-anchor="end" textLength="63.4" lengthAdjust="spacingAndGlyphs">2006/9/25</text>
<text transform="translate(316.22,769.10) rotate(-90)" font-size="13.5" text-anchor="end" textLength="63.4" lengthAdjust="spacingAndGlyphs">2006/12/6</text>
<text transform="translate(330.99,769.10) rotate(-90)" font-size="13.5" text-anchor="end" textLength="63.4" lengthAdjust="spacingAndGlyphs">2007/2/21</text>
<text transform="translate(345.76,769.10) rotate(-90)" font-size="13.5" text-anchor="end" textLength="55.5" lengthAdjust="spacingAndGlyphs">2007/5/8</text>
<text transform="translate(360.53,769.10) rotate(-90)" font-size="13.5" text-anchor="end" textLength="63.4" lengthAdjust="spacingAndGlyphs">2007/7/18</text>
<text transform="translate(375.30,769.10) rotate(-90)" font-size="13.5" text-anchor="end" textLength="63.4" lengthAdjust="spacingAndGlyphs">2007/9/28</text>
<text transform="translate(390.07,769.10) rotate(-90)" font-size="13.5" text-anchor="end" textLength="71.8" lengthAdjust="spacingAndGlyphs">2007/12/11</text>
<text transform="translate(404.84,769.10) rotate(-90)" font-size="13.5" text-anchor="end" textLength="63.4" lengthAdjust="spacingAndGlyphs">2008/2/28</text>
<text transform="translate(419.61,769.10) rotate(-90)" font-size="13.5" text-anchor="end" textLength="63.4" lengthAdjust="spacingAndGlyphs">2008/5/14</text>
<text transform="translate(434.38,769.10) rotate(-90)" font-size="13.5" text-anchor="end" textLength="63.4" lengthAdjust="spacingAndGlyphs">2008/7/24</text>
<text transform="translate(449.15,769.10) rotate(-90)" font-size="13.5" text-anchor="end" textLength="63.4" lengthAdjust="spacingAndGlyphs">2008/10/6</text>
<text transform="translate(463.92,769.10) rotate(-90)" font-size="13.5" text-anchor="end" textLength="71.8" lengthAdjust="spacingAndGlyphs">2008/12/18</text>
<path d="M47 740v1h1v-1zM48 739v1h1v-1zM49 739v1h1v-1zM50 727v14h1v-14zM51 729v1h1v-1zM52 720v11h1v-11zM53 705v17h1v-17zM54 701v5h1v-5zM55 702v4h1v-4zM56 702v3h1v-3zM57 702v4h1v-4zM58 705v3h1v-3zM59 707v6h1v-6zM60 710v10h1v-10zM61 719v3h1v-3zM62 721v2h1v-2zM63 721v1h1v-1zM64 720v5h1v-5zM65 723v3h1v-3zM66 725v2h1v-2zM67 727v2h1v-2zM68 727v4h1v-4zM69 730v4h1v-4zM70 734v2h1v-2zM71 735v3h1v-3zM72 737v1h1v-1zM73 738v1h1v-1zM74 737v1h1v-1zM75 737v1h1v-1zM76 737v2h1v-2zM77 738v2h1v-2zM78 735v3h1v-3zM79 731v5h1v-5zM80 732v3h1v-3zM81 734v2h1v-2zM82 733v2h1v-2zM83 734v3h1v-3zM84 736v2h1v-2zM85 738v2h1v-2zM86 739v2h1v-2zM87 740v2h1v-2zM88 741v2h1v-2zM89 742v1h1v-1zM90 743v1h1v-1zM91 743v1h1v-1zM92 743v2h1v-2zM93 742v2h1v-2zM94 741v2h1v-2zM95 740v2h1v-2zM96 740v3h1v-3zM97 741v2h1v-2zM98 738v3h1v-3zM99 735v5h1v-5zM100 736v3h1v-3zM101 738v1h1v-1zM102 738v1h1v-1zM103 738v1h1v-1zM104 737v2h1v-2zM105 738v2h1v-2zM106 739v3h1v-3zM107 741v2h1v-2zM108 742v1h1v-1zM109 734v11h1v-11zM110 731v4h1v-4zM111 732v2h1v-2zM112 733v2h1v-2zM113 733v3h1v-3zM114 721v14h1v-14zM115 718v4h1v-4zM116 718v1h1v-1zM117 688v32h1v-32zM118 685v5h1v-5zM119 687v3h1v-3zM120 687v2h1v-2zM121 688v7h1v-7zM122 693v5h1v-5zM123 696v6h1v-6zM124 691v8h1v-8zM125 691v8h1v-8zM126 698v5h1v-5zM127 701v6h1v-6zM128 706v5h1v-5zM129 709v6h1v-6zM130 713v5h1v-5zM131 717v4h1v-4zM132 720v4h1v-4zM133 723v4h1v-4zM134 726v4h1v-4zM135 729v3h1v-3zM136 732v2h1v-2zM137 734v3h1v-3zM138 736v2h1v-2zM139 738v2h1v-2zM140 738v2h1v-2zM141 739v2h1v-2zM142 740v1h1v-1zM143 740v2h1v-2zM144 736v5h1v-5zM145 736v2h1v-2zM146 738v1h1v-1zM147 738v2h1v-2zM148 736v3h1v-3zM149 734v3h1v-3zM150 734v2h1v-2zM151 734v1h1v-1zM152 732v3h1v-3zM153 731v3h1v-3zM154 730v2h1v-2zM155 731v1h1v-1zM156 730v3h1v-3zM157 732v3h1v-3zM158 734v3h1v-3zM159 736v3h1v-3zM160 737v3h1v-3zM161 738v1h1v-1zM162 738v1h1v-1zM163 738v1h1v-1zM164 738v1h1v-1zM165 738v2h1v-2zM166 739v1h1v-1zM167 739v2h1v-2zM168 732v7h1v-7zM169 727v6h1v-6zM170 726v3h1v-3zM171 724v3h1v-3zM172 726v4h1v-4zM173 728v2h1v-2zM174 730v2h1v-2zM175 730v3h1v-3zM176 732v2h1v-2zM177 733v3h1v-3zM178 735v2h1v-2zM179 736v3h1v-3zM180 734v4h1v-4zM181 735v1h1v-1zM182 735v2h1v-2zM183 736v2h1v-2zM184 737v2h1v-2zM185 739v2h1v-2zM186 739v2h1v-2zM187 741v1h1v-1zM188 738v4h1v-4zM189 725v15h1v-15zM190 727v3h1v-3zM191 729v2h1v-2zM192 730v2h1v-2zM193 730v3h1v-3zM194 732v2h1v-2zM195 731v3h1v-3zM196 731v2h1v-2zM197 733v2h1v-2zM198 734v3h1v-3zM199 736v3h1v-3zM200 737v2h1v-2zM201 739v1h1v-1zM202 739v1h1v-1zM203 739v1h1v-1zM204 740v1h1v-1zM205 740v2h1v-2zM206 738v3h1v-3zM207 735v4h1v-4zM208 731v5h1v-5zM209 728v4h1v-4zM210 722v6h1v-6zM211 723v2h1v-2zM212 724v5h1v-5zM213 722v7h1v-7zM214 723v3h1v-3zM215 720v6h1v-6zM216 716v5h1v-5zM217 700v18h1v-18zM218 705v6h1v-6zM219 710v2h1v-2zM220 712v2h1v-2zM221 713v4h1v-4zM222 716v3h1v-3zM223 717v2h1v-2zM224 715v3h1v-3zM225 711v5h1v-5zM226 711v1h1v-1zM227 711v4h1v-4zM228 714v4h1v-4zM229 717v2h1v-2zM230 718v2h1v-2zM231 719v5h1v-5zM232 722v4h1v-4zM233 725v4h1v-4zM234 727v5h1v-5zM235 731v1h1v-1zM236 731v2h1v-2zM237 732v1h1v-1zM238 732v2h1v-2zM239 733v3h1v-3zM240 733v2h1v-2zM241 732v2h1v-2zM242 725v9h1v-9zM243 726v3h1v-3zM244 728v3h1v-3zM245 730v3h1v-3zM246 727v5h1v-5zM247 722v6h1v-6zM248 722v2h1v-2zM249 723v4h1v-4zM250 725v2h1v-2zM251 723v4h1v-4zM252 721v4h1v-4zM253 722v2h1v-2zM254 720v5h1v-5zM255 717v4h1v-4zM256 716v2h1v-2zM257 715v5h1v-5zM258 718v4h1v-4zM259 721v4h1v-4zM260 724v3h1v-3zM261 720v6h1v-6zM262 721v2h1v-2zM263 722v1h1v-1zM264 723v1h1v-1zM265 723v2h1v-2zM266 723v2h1v-2zM267 723v2h1v-2zM268 722v2h1v-2zM269 720v3h1v-3zM270 720v4h1v-4zM271 723v1h1v-1zM272 722v1h1v-1zM273 722v3h1v-3zM274 724v4h1v-4zM275 722v6h1v-6zM276 716v7h1v-7zM277 692v27h1v-27zM278 663v33h1v-33zM279 664v9h1v-9zM280 671v10h1v-10zM281 679v7h1v-7zM282 685v6h1v-6zM283 689v5h1v-5zM284 692v5h1v-5zM285 696v5h1v-5zM286 700v4h1v-4zM287 704v4h1v-4zM288 707v4h1v-4zM289 710v5h1v-5zM290 714v4h1v-4zM291 717v4h1v-4zM292 720v2h1v-2zM293 722v1h1v-1zM294 723v1h1v-1zM295 721v3h1v-3zM296 720v2h1v-2zM297 718v3h1v-3zM298 711v9h1v-9zM299 710v6h1v-6zM300 714v6h1v-6zM301 719v4h1v-4zM302 722v2h1v-2zM303 721v2h1v-2zM304 721v2h1v-2zM305 722v3h1v-3zM306 724v4h1v-4zM307 726v3h1v-3zM308 728v3h1v-3zM309 729v3h1v-3zM310 726v4h1v-4zM311 722v5h1v-5zM312 719v4h1v-4zM313 717v4h1v-4zM314 714v5h1v-5zM315 711v4h1v-4zM316 709v3h1v-3zM317 709v1h1v-1zM318 708v3h1v-3zM319 706v6h1v-6zM320 699v8h1v-8zM321 699v1h1v-1zM322 697v3h1v-3zM323 694v3h1v-3zM324 694v3h1v-3zM325 693v4h1v-4zM326 691v3h1v-3zM327 682v10h1v-10zM328 668v15h1v-15zM329 664v6h1v-6zM330 662v3h1v-3zM331 659v4h1v-4zM332 657v6h1v-6zM333 662v9h1v-9zM334 669v5h1v-5zM335 673v4h1v-4zM336 676v4h1v-4zM337 679v4h1v-4zM338 682v5h1v-5zM339 685v6h1v-6zM340 689v4h1v-4zM341 692v5h1v-5zM342 696v4h1v-4zM343 699v6h1v-6zM344 704v6h1v-6zM345 708v3h1v-3zM346 710v2h1v-2zM347 711v2h1v-2zM348 695v20h1v-20zM349 689v8h1v-8zM350 687v3h1v-3zM351 686v2h1v-2zM352 685v3h1v-3zM353 684v2h1v-2zM354 685v4h1v-4zM355 688v5h1v-5zM356 691v2h1v-2zM357 683v10h1v-10zM358 677v7h1v-7zM359 667v12h1v-12zM360 667v2h1v-2zM361 667v5h1v-5zM362 650v19h1v-19zM363 623v29h1v-29zM364 614v12h1v-12zM365 614v6h1v-6zM366 617v14h1v-14zM367 629v4h1v-4zM368 628v7h1v-7zM369 616v14h1v-14zM370 608v10h1v-10zM371 613v5h1v-5zM372 614v3h1v-3zM373 615v9h1v-9zM374 622v14h1v-14zM375 635v5h1v-5zM376 639v5h1v-5zM377 643v6h1v-6zM378 647v7h1v-7zM379 652v6h1v-6zM380 657v5h1v-5zM381 660v5h1v-5zM382 664v6h1v-6zM383 668v6h1v-6zM384 673v5h1v-5zM385 676v2h1v-2zM386 678v4h1v-4zM387 678v6h1v-6zM388 672v8h1v-8zM389 675v7h1v-7zM390 681v4h1v-4zM391 674v12h1v-12zM392 644v33h1v-33zM393 623v24h1v-24zM394 617v8h1v-8zM395 615v11h1v-11zM396 624v7h1v-7zM397 629v13h1v-13zM398 640v7h1v-7zM399 645v9h1v-9zM400 652v14h1v-14zM401 664v6h1v-6zM402 664v4h1v-4zM403 664v2h1v-2zM404 651v15h1v-15zM405 635v18h1v-18zM406 636v10h1v-10zM407 645v2h1v-2zM408 645v4h1v-4zM409 649v1h1v-1zM410 648v2h1v-2zM411 649v6h1v-6zM412 654v6h1v-6zM413 658v8h1v-8zM414 664v4h1v-4zM415 667v5h1v-5zM416 670v9h1v-9zM417 678v3h1v-3zM418 680v3h1v-3zM419 682v3h1v-3zM420 683v8h1v-8zM421 689v3h1v-3zM422 691v3h1v-3zM423 693v3h1v-3zM424 695v3h1v-3zM425 694v4h1v-4zM426 683v13h1v-13zM427 681v4h1v-4zM428 683v6h1v-6zM429 689v6h1v-6zM430 694v3h1v-3zM431 697v4h1v-4zM432 700v2h1v-2zM433 701v2h1v-2zM434 702v5h1v-5zM435 694v15h1v-15zM436 694v3h1v-3zM437 689v8h1v-8zM438 655v35h1v-35zM439 642v17h1v-17zM440 622v22h1v-22zM441 611v15h1v-15zM442 607v6h1v-6zM443 606v9h1v-9zM444 609v11h1v-11zM445 594v16h1v-16zM446 560v38h1v-38zM447 495v66h1v-66zM448 477v19h1v-19zM449 475v5h1v-5zM450 462v15h1v-15zM451 462v14h1v-14zM452 473v22h1v-22zM453 491v31h1v-31zM454 514v25h1v-25zM455 534v19h1v-19zM456 550v19h1v-19zM457 532v39h1v-39zM458 526v44h1v-44zM459 529v23h1v-23zM460 549v18h1v-18zM461 566v15h1v-15zM462 578v17h1v-17zM463 592v9h1v-9zM464 600v7h1v-7zM465 601v6h1v-6zM466 606v12h1v-12zM467 616v7h1v-7zM468 621v7h1v-7zM469 627v12h1v-12z" fill="#000080" shape-rendering="crispEdges"/>
<path d="M109 728v30h1v-30zM110 715v15h1v-15zM111 716v3h1v-3zM112 717v4h1v-4zM113 718v3h1v-3zM114 712v6h1v-6zM115 711v2h1v-2zM116 712v4h1v-4zM117 715v2h1v-2zM118 715v3h1v-3zM119 713v3h1v-3zM120 710v4h1v-4zM121 708v3h1v-3zM122 710v3h1v-3zM123 712v5h1v-5zM124 671v45h1v-45zM125 666v9h1v-9zM126 666v6h1v-6zM127 671v7h1v-7zM128 676v8h1v-8zM129 683v1h1v-1zM130 683v4h1v-4zM131 685v6h1v-6zM132 690v5h1v-5zM133 694v3h1v-3zM134 696v10h1v-10zM135 704v2h1v-2zM136 705v3h1v-3zM137 706v4h1v-4zM138 709v2h1v-2zM139 711v1h1v-1zM140 711v1h1v-1zM141 710v2h1v-2zM142 710v2h1v-2zM143 711v5h1v-5zM144 709v3h1v-3zM145 711v4h1v-4zM146 713v4h1v-4zM147 716v3h1v-3zM148 718v3h1v-3zM149 716v3h1v-3zM150 717v2h1v-2zM151 718v2h1v-2zM152 718v3h1v-3zM153 717v7h1v-7zM154 713v6h1v-6zM155 717v2h1v-2zM156 716v2h1v-2zM157 716v3h1v-3zM158 717v2h1v-2zM159 717v2h1v-2zM160 717v1h1v-1zM161 717v1h1v-1zM162 714v5h1v-5zM163 712v4h1v-4zM164 712v1h1v-1zM165 712v2h1v-2zM166 713v2h1v-2zM167 714v2h1v-2zM168 715v2h1v-2zM169 716v3h1v-3zM170 718v4h1v-4zM171 720v2h1v-2zM172 721v2h1v-2zM173 722v2h1v-2zM174 723v2h1v-2zM175 724v2h1v-2zM176 726v2h1v-2zM177 727v3h1v-3zM178 729v2h1v-2zM179 730v2h1v-2zM180 731v2h1v-2zM181 732v1h1v-1zM182 731v1h1v-1zM183 731v2h1v-2zM184 732v2h1v-2zM185 733v2h1v-2zM186 734v1h1v-1zM187 733v2h1v-2zM188 730v4h1v-4zM189 727v3h1v-3zM190 728v1h1v-1zM191 726v3h1v-3zM192 709v19h1v-19zM193 704v6h1v-6zM194 706v6h1v-6zM195 711v3h1v-3zM196 714v1h1v-1zM197 711v3h1v-3zM198 711v7h1v-7zM199 717v2h1v-2zM200 719v2h1v-2zM201 720v3h1v-3zM202 722v3h1v-3zM203 724v1h1v-1zM204 724v2h1v-2zM205 725v3h1v-3zM206 726v3h1v-3zM207 728v2h1v-2zM208 729v2h1v-2zM209 730v4h1v-4zM210 733v2h1v-2zM211 734v2h1v-2zM212 735v1h1v-1zM213 734v3h1v-3zM214 733v3h1v-3zM215 722v13h1v-13zM216 722v1h1v-1zM217 722v3h1v-3zM218 723v3h1v-3zM219 721v5h1v-5zM220 722v3h1v-3zM221 724v2h1v-2zM222 721v4h1v-4zM223 721v1h1v-1zM224 718v4h1v-4zM225 709v11h1v-11zM226 698v13h1v-13zM227 696v4h1v-4zM228 697v6h1v-6zM229 701v5h1v-5zM230 705v4h1v-4zM231 704v5h1v-5zM232 702v3h1v-3zM233 705v3h1v-3zM234 707v2h1v-2zM235 708v3h1v-3zM236 710v3h1v-3zM237 711v2h1v-2zM238 709v3h1v-3zM239 706v4h1v-4zM240 705v2h1v-2zM241 704v2h1v-2zM242 704v3h1v-3zM243 706v4h1v-4zM244 709v3h1v-3zM245 710v2h1v-2zM246 700v11h1v-11zM247 688v14h1v-14zM248 684v7h1v-7zM249 683v8h1v-8zM250 689v5h1v-5zM251 693v3h1v-3zM252 690v5h1v-5zM253 686v5h1v-5zM254 686v5h1v-5zM255 690v4h1v-4zM256 693v3h1v-3zM257 695v3h1v-3zM258 696v3h1v-3zM259 698v3h1v-3zM260 700v5h1v-5zM261 704v3h1v-3zM262 705v3h1v-3zM263 707v3h1v-3zM264 709v2h1v-2zM265 711v1h1v-1zM266 707v5h1v-5zM267 704v4h1v-4zM268 706v5h1v-5zM269 710v1h1v-1zM270 708v3h1v-3zM271 705v4h1v-4zM272 696v10h1v-10zM273 697v2h1v-2zM274 691v8h1v-8zM275 684v8h1v-8zM276 677v9h1v-9zM277 675v3h1v-3zM278 675v4h1v-4zM279 678v4h1v-4zM280 680v3h1v-3zM281 682v5h1v-5zM282 686v8h1v-8zM283 683v11h1v-11zM284 679v6h1v-6zM285 681v5h1v-5zM286 685v6h1v-6zM287 690v4h1v-4zM288 692v4h1v-4zM289 695v3h1v-3zM290 697v4h1v-4zM291 700v4h1v-4zM292 703v4h1v-4zM293 705v4h1v-4zM294 708v2h1v-2zM295 709v3h1v-3zM296 710v3h1v-3zM297 711v2h1v-2zM298 707v6h1v-6zM299 706v2h1v-2zM300 706v3h1v-3zM301 708v4h1v-4zM302 711v3h1v-3zM303 713v4h1v-4zM304 716v3h1v-3zM305 717v3h1v-3zM306 719v1h1v-1zM307 719v1h1v-1zM308 712v9h1v-9zM309 710v3h1v-3zM310 709v2h1v-2zM311 708v3h1v-3zM312 710v3h1v-3zM313 712v3h1v-3zM314 715v2h1v-2zM315 716v2h1v-2zM316 717v3h1v-3zM317 719v3h1v-3zM318 714v8h1v-8zM319 713v3h1v-3zM320 715v4h1v-4zM321 717v4h1v-4zM322 720v2h1v-2zM323 721v3h1v-3zM324 721v3h1v-3zM325 720v2h1v-2zM326 720v4h1v-4zM327 717v8h1v-8zM328 702v16h1v-16zM329 695v9h1v-9zM330 694v2h1v-2zM331 693v2h1v-2zM332 692v2h1v-2zM333 693v4h1v-4zM334 696v5h1v-5zM335 700v3h1v-3zM336 701v4h1v-4zM337 704v3h1v-3zM338 706v2h1v-2zM339 708v2h1v-2zM340 709v3h1v-3zM341 712v2h1v-2zM342 713v2h1v-2zM343 714v3h1v-3zM344 716v2h1v-2zM345 717v1h1v-1zM346 717v2h1v-2zM347 718v2h1v-2zM348 720v2h1v-2zM349 720v2h1v-2zM350 721v2h1v-2zM351 722v3h1v-3zM352 723v3h1v-3zM353 721v3h1v-3zM354 720v4h1v-4zM355 723v2h1v-2zM356 723v1h1v-1zM357 722v2h1v-2zM358 722v1h1v-1zM359 716v8h1v-8zM360 713v4h1v-4zM361 714v2h1v-2zM362 703v14h1v-14zM363 673v32h1v-32zM364 666v9h1v-9zM365 669v6h1v-6zM366 673v4h1v-4zM367 677v3h1v-3zM368 679v6h1v-6zM369 680v8h1v-8zM370 675v7h1v-7zM371 679v4h1v-4zM372 679v4h1v-4zM373 682v6h1v-6zM374 687v7h1v-7zM375 692v2h1v-2zM376 694v1h1v-1zM377 694v1h1v-1zM378 693v2h1v-2zM379 692v3h1v-3zM380 685v8h1v-8zM381 683v3h1v-3zM382 684v1h1v-1zM383 684v4h1v-4zM384 686v4h1v-4zM385 688v3h1v-3zM386 690v4h1v-4zM387 691v3h1v-3zM388 689v5h1v-5zM389 689v8h1v-8zM390 683v8h1v-8zM391 678v7h1v-7zM392 668v11h1v-11zM393 640v31h1v-31zM394 633v9h1v-9zM395 632v5h1v-5zM396 636v8h1v-8zM397 642v6h1v-6zM398 646v6h1v-6zM399 650v3h1v-3zM400 652v4h1v-4zM401 655v4h1v-4zM402 656v3h1v-3zM403 656v3h1v-3zM404 654v6h1v-6zM405 651v3h1v-3zM406 652v7h1v-7zM407 658v6h1v-6zM408 655v6h1v-6zM409 658v9h1v-9zM410 665v3h1v-3zM411 667v5h1v-5zM412 671v4h1v-4zM413 674v3h1v-3zM414 675v2h1v-2zM415 676v4h1v-4zM416 679v5h1v-5zM417 682v6h1v-6zM418 685v5h1v-5zM419 684v3h1v-3zM420 685v3h1v-3zM421 686v1h1v-1zM422 686v2h1v-2zM423 686v4h1v-4zM424 688v6h1v-6zM425 693v5h1v-5zM426 696v3h1v-3zM427 698v4h1v-4zM428 700v2h1v-2zM429 699v4h1v-4zM430 691v9h1v-9zM431 687v6h1v-6zM432 688v2h1v-2zM433 684v5h1v-5zM434 684v3h1v-3zM435 686v4h1v-4zM436 688v5h1v-5zM437 692v3h1v-3zM438 689v5h1v-5zM439 685v5h1v-5zM440 672v15h1v-15zM441 659v16h1v-16zM442 650v11h1v-11zM443 648v8h1v-8zM444 654v7h1v-7zM445 655v2h1v-2zM446 632v25h1v-25zM447 536v99h1v-99zM448 532v6h1v-6zM449 517v17h1v-17zM450 502v16h1v-16zM451 503v4h1v-4zM452 506v8h1v-8zM453 513v19h1v-19zM454 528v21h1v-21zM455 547v7h1v-7zM456 553v16h1v-16zM457 566v23h1v-23zM458 586v8h1v-8zM459 592v8h1v-8zM460 597v15h1v-15zM461 609v9h1v-9zM462 617v12h1v-12zM463 628v8h1v-8zM464 632v7h1v-7zM465 630v11h1v-11zM466 638v7h1v-7zM467 636v7h1v-7zM468 640v3h1v-3zM469 639v11h1v-11z" fill="#ff00ff" shape-rendering="crispEdges"/>
<rect x="118.5" y="427.5" width="252" height="31" fill="#fff" stroke="#000"/>
<rect x="126" y="436" width="25" height="1" fill="#000080"/>
<text x="152.5" y="440.6" font-size="12" text-anchor="start" fill="#000" textLength="213" lengthAdjust="spacingAndGlyphs" >東証REIT指数(配当込)HV(EWMA, λ=0.94)</text>
<rect x="126" y="450" width="25" height="1" fill="#ff00ff"/>
<text x="152.5" y="454.6" font-size="12" text-anchor="start" fill="#000" textLength="206" lengthAdjust="spacingAndGlyphs" >TOPIX1000F(配当込)HV(EWMA, λ=0.94)</text>
</g>
<g id="chart4">
<rect x="479.5" y="427.5" width="466" height="414" fill="#fff" stroke="#000" stroke-width="1"/>
<path d="M665.5,633.3 L665.50,481.60 A151.7,151.7 0 0 1 808.41,582.41 Z" fill="#9999FF" stroke="#000" stroke-width="1" stroke-linejoin="bevel"/>
<path d="M665.5,633.3 L808.41,582.41 A151.7,151.7 0 0 1 798.82,705.68 Z" fill="#993366" stroke="#000" stroke-width="1" stroke-linejoin="bevel"/>
<path d="M665.5,633.3 L798.82,705.68 A151.7,151.7 0 0 1 760.56,751.53 Z" fill="#FFFFCC" stroke="#000" stroke-width="1" stroke-linejoin="bevel"/>
<path d="M665.5,633.3 L760.56,751.53 A151.7,151.7 0 0 1 728.89,771.12 Z" fill="#CCFFFF" stroke="#000" stroke-width="1" stroke-linejoin="bevel"/>
<path d="M665.5,633.3 L728.89,771.12 A151.7,151.7 0 0 1 677.40,784.53 Z" fill="#660066" stroke="#000" stroke-width="1" stroke-linejoin="bevel"/>
<path d="M665.5,633.3 L677.40,784.53 A151.7,151.7 0 0 1 664.18,784.99 Z" fill="#FF8080" stroke="#000" stroke-width="1" stroke-linejoin="bevel"/>
<path d="M665.5,633.3 L664.18,784.99 A151.7,151.7 0 0 1 633.18,781.52 Z" fill="#0066CC" stroke="#000" stroke-width="1" stroke-linejoin="bevel"/>
<path d="M665.5,633.3 L633.18,781.52 A151.7,151.7 0 0 1 610.39,774.64 Z" fill="#CCCCFF" stroke="#000" stroke-width="1" stroke-linejoin="bevel"/>
<path d="M665.5,633.3 L610.39,774.64 A151.7,151.7 0 0 1 549.97,731.62 Z" fill="#000080" stroke="#000" stroke-width="1" stroke-linejoin="bevel"/>
<path d="M665.5,633.3 L549.97,731.62 A151.7,151.7 0 0 1 533.47,708.00 Z" fill="#FF00FF" stroke="#000" stroke-width="1" stroke-linejoin="bevel"/>
<path d="M665.5,633.3 L533.47,708.00 A151.7,151.7 0 0 1 517.45,666.39 Z" fill="#FFFF00" stroke="#000" stroke-width="1" stroke-linejoin="bevel"/>
<path d="M665.5,633.3 L517.45,666.39 A151.7,151.7 0 0 1 516.90,663.80 Z" fill="#00FFFF" stroke="#000" stroke-width="1" stroke-linejoin="bevel"/>
<path d="M665.5,633.3 L516.90,663.80 A151.7,151.7 0 0 1 516.34,660.95 Z" fill="#800080" stroke="#000" stroke-width="1" stroke-linejoin="bevel"/>
<path d="M665.5,633.3 L516.34,660.95 A151.7,151.7 0 0 1 513.81,631.98 Z" fill="#800000" stroke="#000" stroke-width="1" stroke-linejoin="bevel"/>
<path d="M665.5,633.3 L513.81,631.98 A151.7,151.7 0 0 1 513.85,629.59 Z" fill="#008080" stroke="#000" stroke-width="1" stroke-linejoin="bevel"/>
<path d="M665.5,633.3 L513.85,629.59 A151.7,151.7 0 0 1 516.10,606.96 Z" fill="#0000FF" stroke="#000" stroke-width="1" stroke-linejoin="bevel"/>
<path d="M665.5,633.3 L516.10,606.96 A151.7,151.7 0 0 1 519.46,592.25 Z" fill="#00CCFF" stroke="#000" stroke-width="1" stroke-linejoin="bevel"/>
<path d="M665.5,633.3 L519.46,592.25 A151.7,151.7 0 0 1 519.82,590.98 Z" fill="#CCFFFF" stroke="#000" stroke-width="1" stroke-linejoin="bevel"/>
<path d="M665.5,633.3 L519.82,590.98 A151.7,151.7 0 0 1 520.27,589.45 Z" fill="#CCFFCC" stroke="#000" stroke-width="1" stroke-linejoin="bevel"/>
<path d="M665.5,633.3 L520.27,589.45 A151.7,151.7 0 0 1 524.36,577.70 Z" fill="#FFFF99" stroke="#000" stroke-width="1" stroke-linejoin="bevel"/>
<path d="M665.5,633.3 L524.36,577.70 A151.7,151.7 0 0 1 526.70,572.08 Z" fill="#99CCFF" stroke="#000" stroke-width="1" stroke-linejoin="bevel"/>
<path d="M665.5,633.3 L526.70,572.08 A151.7,151.7 0 0 1 527.79,569.67 Z" fill="#FF99CC" stroke="#000" stroke-width="1" stroke-linejoin="bevel"/>
<path d="M665.5,633.3 L527.79,569.67 A151.7,151.7 0 0 1 528.69,567.75 Z" fill="#CC99FF" stroke="#000" stroke-width="1" stroke-linejoin="bevel"/>
<path d="M665.5,633.3 L528.69,567.75 A151.7,151.7 0 0 1 536.85,552.91 Z" fill="#FFCC99" stroke="#000" stroke-width="1" stroke-linejoin="bevel"/>
<path d="M665.5,633.3 L536.85,552.91 A151.7,151.7 0 0 1 543.24,543.49 Z" fill="#3366FF" stroke="#000" stroke-width="1" stroke-linejoin="bevel"/>
<path d="M665.5,633.3 L543.24,543.49 A151.7,151.7 0 0 1 548.11,537.22 Z" fill="#33CCCC" stroke="#000" stroke-width="1" stroke-linejoin="bevel"/>
<path d="M665.5,633.3 L548.11,537.22 A151.7,151.7 0 0 1 549.29,535.79 Z" fill="#99CC00" stroke="#000" stroke-width="1" stroke-linejoin="bevel"/>
<path d="M665.5,633.3 L549.29,535.79 A151.7,151.7 0 0 1 553.30,531.20 Z" fill="#FFCC00" stroke="#000" stroke-width="1" stroke-linejoin="bevel"/>
<path d="M665.5,633.3 L553.30,531.20 A151.7,151.7 0 0 1 566.38,518.46 Z" fill="#FF9900" stroke="#000" stroke-width="1" stroke-linejoin="bevel"/>
<path d="M665.5,633.3 L566.38,518.46 A151.7,151.7 0 0 1 570.24,515.24 Z" fill="#FF6600" stroke="#000" stroke-width="1" stroke-linejoin="bevel"/>
<path d="M665.5,633.3 L570.24,515.24 A151.7,151.7 0 0 1 572.94,513.11 Z" fill="#666699" stroke="#000" stroke-width="1" stroke-linejoin="bevel"/>
<path d="M665.5,633.3 L572.94,513.11 A151.7,151.7 0 0 1 574.84,511.67 Z" fill="#969696" stroke="#000" stroke-width="1" stroke-linejoin="bevel"/>
<path d="M665.5,633.3 L574.84,511.67 A151.7,151.7 0 0 1 577.62,509.65 Z" fill="#003366" stroke="#000" stroke-width="1" stroke-linejoin="bevel"/>
<path d="M665.5,633.3 L577.62,509.65 A151.7,151.7 0 0 1 597.57,497.66 Z" fill="#339966" stroke="#000" stroke-width="1" stroke-linejoin="bevel"/>
<path d="M665.5,633.3 L597.57,497.66 A151.7,151.7 0 0 1 614.86,490.30 Z" fill="#003300" stroke="#000" stroke-width="1" stroke-linejoin="bevel"/>
<path d="M665.5,633.3 L614.86,490.30 A151.7,151.7 0 0 1 623.43,487.55 Z" fill="#333300" stroke="#000" stroke-width="1" stroke-linejoin="bevel"/>
<path d="M665.5,633.3 L623.43,487.55 A151.7,151.7 0 0 1 631.63,485.43 Z" fill="#993300" stroke="#000" stroke-width="1" stroke-linejoin="bevel"/>
<path d="M665.5,633.3 L631.63,485.43 A151.7,151.7 0 0 1 644.91,483.00 Z" fill="#993366" stroke="#000" stroke-width="1" stroke-linejoin="bevel"/>
<path d="M665.5,633.3 L644.91,483.00 A151.7,151.7 0 0 1 656.50,481.87 Z" fill="#333399" stroke="#000" stroke-width="1" stroke-linejoin="bevel"/>
<path d="M665.5,633.3 L656.50,481.87 A151.7,151.7 0 0 1 661.79,481.65 Z" fill="#333333" stroke="#000" stroke-width="1" stroke-linejoin="bevel"/>
<path d="M665.5,633.3 L661.79,481.65 A151.7,151.7 0 0 1 665.50,481.60 Z" fill="#000000" stroke="#000" stroke-width="1" stroke-linejoin="bevel"/>
<text x="684.5" y="451" font-size="13.5" text-anchor="start" fill="#000" textLength="54" lengthAdjust="spacingAndGlyphs" >時価比率</text>
<clipPath id="c4"><rect x="480" y="428" width="340" height="413"/></clipPath>
<g clip-path="url(#c4)">
<polyline points="815.5,647 815.5,702" fill="none" stroke="#000" stroke-width="1"/>
<polyline points="495.1,702.5 504.8,702.5 517.2,667" fill="none" stroke="#000" stroke-width="1"/>
<polyline points="495.1,682.5 504.8,682.5 516.6,666.4" fill="none" stroke="#000" stroke-width="1"/>
<polyline points="493.2,661.5 502.7,661.5 514,651.2" fill="none" stroke="#000" stroke-width="1"/>
<polyline points="491.3,640.5 501.4,640.5 513.4,634.1" fill="none" stroke="#000" stroke-width="1"/>
<polyline points="493.2,619.5 508.3,619.5 514,620.2" fill="none" stroke="#000" stroke-width="1"/>
<polyline points="500.8,600.5 512.1,600.5 519.1,592.8" fill="none" stroke="#000" stroke-width="1"/>
<polyline points="494.2,586.5 503.9,586.5 519.7,590.3" fill="none" stroke="#000" stroke-width="1"/>
<polyline points="495.1,572.5 504.6,572.5 521.6,584" fill="none" stroke="#000" stroke-width="1"/>
<polyline points="514.4,556.5 523.5,556.5 528.6,567.5" fill="none" stroke="#000" stroke-width="1"/>
<polyline points="517.2,533.5 526,533.5 532.4,558.7" fill="none" stroke="#000" stroke-width="1"/>
<polyline points="501.4,517.5 510.6,517.5 540,547" fill="none" stroke="#000" stroke-width="1"/>
<polyline points="488.1,505.5 497.6,505.5 543,541" fill="none" stroke="#000" stroke-width="1"/>
<polyline points="494.2,473.5 503.9,473.5 546.3,533" fill="none" stroke="#000" stroke-width="1"/>
<polyline points="510.2,452.5 519.7,452.5 551,535" fill="none" stroke="#000" stroke-width="1"/>
<polyline points="533,486.5 544.4,486.5 558.9,524.7" fill="none" stroke="#000" stroke-width="1"/>
<polyline points="546.3,481.5 555.8,481.5 567.1,515.3" fill="none" stroke="#000" stroke-width="1"/>
<polyline points="540,469.5 550,469.5 572.2,512.7" fill="none" stroke="#000" stroke-width="1"/>
<polyline points="548.2,448.5 557.7,448.5 574.1,510.8" fill="none" stroke="#000" stroke-width="1"/>
<polyline points="572.2,450.1 584.9,503.9" fill="none" stroke="#000" stroke-width="1"/>
<polyline points="641.3,468.5 650.5,468.5 650.5,481.5 656,481" fill="none" stroke="#000" stroke-width="1"/>
<polyline points="650.2,448.5 659.4,448.5 663.5,481.1" fill="none" stroke="#000" stroke-width="1"/>
<text x="757.6" y="502.3" font-size="12" text-anchor="start" fill="#000" textLength="19.3" lengthAdjust="spacingAndGlyphs" stroke="#000" stroke-width="0.3">20%</text>
<text x="805.6" y="715.2" font-size="12" text-anchor="start" fill="#000" textLength="19.3" lengthAdjust="spacingAndGlyphs" stroke="#000" stroke-width="0.3">13%</text>
<text x="770.8" y="763.2" font-size="12" text-anchor="start" fill="#000" textLength="13" lengthAdjust="spacingAndGlyphs" stroke="#000" stroke-width="0.3">6%</text>
<text x="751.2" y="781.6" font-size="12" text-anchor="start" fill="#000" textLength="13" lengthAdjust="spacingAndGlyphs" stroke="#000" stroke-width="0.3">4%</text>
<text x="706.0" y="800.2" font-size="12" text-anchor="start" fill="#000" textLength="13" lengthAdjust="spacingAndGlyphs" stroke="#000" stroke-width="0.3">5%</text>
<text x="669.4" y="806.2" font-size="12" text-anchor="start" fill="#000" textLength="13" lengthAdjust="spacingAndGlyphs" stroke="#000" stroke-width="0.3">1%</text>
<text x="639.8" y="805.3" font-size="12" text-anchor="start" fill="#000" textLength="13" lengthAdjust="spacingAndGlyphs" stroke="#000" stroke-width="0.3">3%</text>
<text x="609.7" y="799.2" font-size="12" text-anchor="start" fill="#000" textLength="13" lengthAdjust="spacingAndGlyphs" stroke="#000" stroke-width="0.3">3%</text>
<text x="561.5" y="777.0" font-size="12" text-anchor="start" fill="#000" textLength="13" lengthAdjust="spacingAndGlyphs" stroke="#000" stroke-width="0.3">8%</text>
<text x="523.5" y="738.2" font-size="12" text-anchor="start" fill="#000" textLength="13" lengthAdjust="spacingAndGlyphs" stroke="#000" stroke-width="0.3">3%</text>
<text x="504.6" y="702.0" font-size="12" text-anchor="start" fill="#000" textLength="13" lengthAdjust="spacingAndGlyphs" stroke="#000" stroke-width="0.3">5%</text>
<text x="481.8" y="708.2" font-size="12" text-anchor="start" fill="#000" textLength="13" lengthAdjust="spacingAndGlyphs" stroke="#000" stroke-width="0.3">0%</text>
<text x="481.8" y="686.8" font-size="12" text-anchor="start" fill="#000" textLength="13" lengthAdjust="spacingAndGlyphs" stroke="#000" stroke-width="0.3">0%</text>
<text x="479.3" y="666.6" font-size="12" text-anchor="start" fill="#000" textLength="13" lengthAdjust="spacingAndGlyphs" stroke="#000" stroke-width="0.3">3%</text>
<text x="478.0" y="645.7" font-size="12" text-anchor="start" fill="#000" textLength="13" lengthAdjust="spacingAndGlyphs" stroke="#000" stroke-width="0.3">0%</text>
<text x="479.3" y="624.9" font-size="12" text-anchor="start" fill="#000" textLength="13" lengthAdjust="spacingAndGlyphs" stroke="#000" stroke-width="0.3">2%</text>
<text x="498.2" y="601.2" font-size="12" text-anchor="start" fill="#000" textLength="13" lengthAdjust="spacingAndGlyphs" stroke="#000" stroke-width="0.3">2%</text>
<text x="488.7" y="605.7" font-size="12" text-anchor="start" fill="#000" textLength="13" lengthAdjust="spacingAndGlyphs" stroke="#000" stroke-width="0.3">0%</text>
<text x="480.8" y="591.8" font-size="12" text-anchor="start" fill="#000" textLength="13" lengthAdjust="spacingAndGlyphs" stroke="#000" stroke-width="0.3">0%</text>
<text x="481.8" y="578.2" font-size="12" text-anchor="start" fill="#000" textLength="13" lengthAdjust="spacingAndGlyphs" stroke="#000" stroke-width="0.3">2%</text>
<text x="498.9" y="571.5" font-size="12" text-anchor="start" fill="#000" textLength="13" lengthAdjust="spacingAndGlyphs" stroke="#000" stroke-width="0.3">0%</text>
<text x="507.0" y="573.4" font-size="12" text-anchor="start" fill="#000" textLength="13" lengthAdjust="spacingAndGlyphs" stroke="#000" stroke-width="0.3">0%</text>
<text x="500.8" y="562.0" font-size="12" text-anchor="start" fill="#000" textLength="13" lengthAdjust="spacingAndGlyphs" stroke="#000" stroke-width="0.3">0%</text>
<text x="502.7" y="538.0" font-size="12" text-anchor="start" fill="#000" textLength="13" lengthAdjust="spacingAndGlyphs" stroke="#000" stroke-width="0.3">2%</text>
<text x="486.9" y="522.8" font-size="12" text-anchor="start" fill="#000" textLength="13" lengthAdjust="spacingAndGlyphs" stroke="#000" stroke-width="0.3">1%</text>
<text x="475.5" y="509.8" font-size="12" text-anchor="start" fill="#000" textLength="13" lengthAdjust="spacingAndGlyphs" stroke="#000" stroke-width="0.3">1%</text>
<text x="480.8" y="478.8" font-size="12" text-anchor="start" fill="#000" textLength="13" lengthAdjust="spacingAndGlyphs" stroke="#000" stroke-width="0.3">0%</text>
<text x="495.7" y="457.9" font-size="12" text-anchor="start" fill="#000" textLength="13" lengthAdjust="spacingAndGlyphs" stroke="#000" stroke-width="0.3">0%</text>
<text x="520.4" y="490.2" font-size="12" text-anchor="start" fill="#000" textLength="13" lengthAdjust="spacingAndGlyphs" stroke="#000" stroke-width="0.3">2%</text>
<text x="553.9" y="509.1" font-size="12" text-anchor="start" fill="#000" textLength="13" lengthAdjust="spacingAndGlyphs" stroke="#000" stroke-width="0.3">0%</text>
<text x="532.4" y="486.4" font-size="12" text-anchor="start" fill="#000" textLength="13" lengthAdjust="spacingAndGlyphs" stroke="#000" stroke-width="0.3">0%</text>
<text x="526.0" y="473.7" font-size="12" text-anchor="start" fill="#000" textLength="13" lengthAdjust="spacingAndGlyphs" stroke="#000" stroke-width="0.3">0%</text>
<text x="533.6" y="452.9" font-size="12" text-anchor="start" fill="#000" textLength="13" lengthAdjust="spacingAndGlyphs" stroke="#000" stroke-width="0.3">0%</text>
<text x="566.0" y="445.9" font-size="12" text-anchor="start" fill="#000" textLength="13" lengthAdjust="spacingAndGlyphs" stroke="#000" stroke-width="0.3">2%</text>
<text x="587.8" y="487.0" font-size="12" text-anchor="start" fill="#000" textLength="13" lengthAdjust="spacingAndGlyphs" stroke="#000" stroke-width="0.3">2%</text>
<text x="604.7" y="480.7" font-size="12" text-anchor="start" fill="#000" textLength="13" lengthAdjust="spacingAndGlyphs" stroke="#000" stroke-width="0.3">1%</text>
<text x="616.0" y="478.5" font-size="12" text-anchor="start" fill="#000" textLength="13" lengthAdjust="spacingAndGlyphs" stroke="#000" stroke-width="0.3">1%</text>
<text x="626.0" y="471.5" font-size="12" text-anchor="start" fill="#000" textLength="13" lengthAdjust="spacingAndGlyphs" stroke="#000" stroke-width="0.3">1%</text>
<text x="624.5" y="476.5" font-size="12" text-anchor="start" fill="#000" textLength="13" lengthAdjust="spacingAndGlyphs" stroke="#000" stroke-width="0.3">2%</text>
<text x="643.9" y="468.0" font-size="12" text-anchor="start" fill="#000" textLength="13" lengthAdjust="spacingAndGlyphs" stroke="#000" stroke-width="0.3">1%</text>
<text x="636.9" y="452.9" font-size="12" text-anchor="start" fill="#000" textLength="13" lengthAdjust="spacingAndGlyphs" stroke="#000" stroke-width="0.3">0%</text>
</g>
<rect x="819.5" y="427.5" width="126" height="414" fill="#fff" stroke="#000"/>
<rect x="823.5" y="431.5" width="3.5" height="3.5" fill="#9999FF" stroke="#000" stroke-width="1"/>
<text x="828.9" y="434.90" font-size="6.2" text-anchor="start" fill="#000" textLength="72.7" lengthAdjust="spacingAndGlyphs" stroke="#000" stroke-width="0.3">日本ビルファンド投資法人</text>
<rect x="823.5" y="441.5" width="3.5" height="3.5" fill="#993366" stroke="#000" stroke-width="1"/>
<text x="828.9" y="444.95" font-size="6.2" text-anchor="start" fill="#000" textLength="91.6" lengthAdjust="spacingAndGlyphs" stroke="#000" stroke-width="0.3">ジャパンリアルエステイト投資法人</text>
<rect x="823.5" y="451.5" width="3.5" height="3.5" fill="#FFFFCC" stroke="#000" stroke-width="1"/>
<text x="828.9" y="455.00" font-size="6.2" text-anchor="start" fill="#000" textLength="82.7" lengthAdjust="spacingAndGlyphs" stroke="#000" stroke-width="0.3">日本リテールファンド投資法人</text>
<rect x="823.5" y="461.5" width="3.5" height="3.5" fill="#CCFFFF" stroke="#000" stroke-width="1"/>
<text x="828.9" y="465.05" font-size="6.2" text-anchor="start" fill="#000" textLength="69.4" lengthAdjust="spacingAndGlyphs" stroke="#000" stroke-width="0.3">オリックス不動産投資法人</text>
<rect x="823.5" y="471.5" width="3.5" height="3.5" fill="#660066" stroke="#000" stroke-width="1"/>
<text x="828.9" y="475.10" font-size="6.2" text-anchor="start" fill="#000" textLength="88.6" lengthAdjust="spacingAndGlyphs" stroke="#000" stroke-width="0.3">日本プライムリアルティ投資法人</text>
<rect x="823.5" y="481.5" width="3.5" height="3.5" fill="#FF8080" stroke="#000" stroke-width="1"/>
<text x="828.9" y="485.15" font-size="6.2" text-anchor="start" fill="#000" textLength="46.5" lengthAdjust="spacingAndGlyphs" stroke="#000" stroke-width="0.3">プレミア投資法人</text>
<rect x="823.5" y="491.5" width="3.5" height="3.5" fill="#0066CC" stroke="#000" stroke-width="1"/>
<text x="828.9" y="495.20" font-size="6.2" text-anchor="start" fill="#000" textLength="83.5" lengthAdjust="spacingAndGlyphs" stroke="#000" stroke-width="0.3">東急リアル・エステート投資法人</text>
<rect x="823.5" y="501.5" width="3.5" height="3.5" fill="#CCCCFF" stroke="#000" stroke-width="1"/>
<text x="828.9" y="505.25" font-size="6.2" text-anchor="start" fill="#000" textLength="91.6" lengthAdjust="spacingAndGlyphs" stroke="#000" stroke-width="0.3">グローバル・ワン不動産投資法人</text>
<rect x="823.5" y="511.5" width="3.5" height="3.5" fill="#000080" stroke="#000" stroke-width="1"/>
<text x="828.9" y="515.30" font-size="6.2" text-anchor="start" fill="#000" textLength="100.4" lengthAdjust="spacingAndGlyphs" stroke="#000" stroke-width="0.3">野村不動産オフィスファンド投資法人</text>
<rect x="823.5" y="522.5" width="3.5" height="3.5" fill="#FF00FF" stroke="#000" stroke-width="1"/>
<text x="828.9" y="525.35" font-size="6.2" text-anchor="start" fill="#000" textLength="85.7" lengthAdjust="spacingAndGlyphs" stroke="#000" stroke-width="0.3">ユナイテッド・アーバン投資法人</text>
<rect x="823.5" y="532.5" width="3.5" height="3.5" fill="#FFFF00" stroke="#000" stroke-width="1"/>
<text x="828.9" y="535.40" font-size="6.2" text-anchor="start" fill="#000" textLength="79.5" lengthAdjust="spacingAndGlyphs" stroke="#000" stroke-width="0.3">森トラスト総合リート投資法人</text>
<rect x="823.5" y="542.5" width="3.5" height="3.5" fill="#00FFFF" stroke="#000" stroke-width="1"/>
<text x="828.9" y="545.45" font-size="6.2" text-anchor="start" fill="#000" textLength="76.8" lengthAdjust="spacingAndGlyphs" stroke="#000" stroke-width="0.3">日本レジデンシャル投資法人</text>
<rect x="823.5" y="552.5" width="3.5" height="3.5" fill="#800080" stroke="#000" stroke-width="1"/>
<text x="828.9" y="555.50" font-size="6.2" text-anchor="start" fill="#000" textLength="76.8" lengthAdjust="spacingAndGlyphs" stroke="#000" stroke-width="0.3">東京グロースリート投資法人</text>
<rect x="823.5" y="562.5" width="3.5" height="3.5" fill="#800000" stroke="#000" stroke-width="1"/>
<text x="828.9" y="565.55" font-size="6.2" text-anchor="start" fill="#000" textLength="76.8" lengthAdjust="spacingAndGlyphs" stroke="#000" stroke-width="0.3">フロンティア不動産投資法人</text>
<rect x="823.5" y="572.5" width="3.5" height="3.5" fill="#008080" stroke="#000" stroke-width="1"/>
<text x="828.9" y="575.60" font-size="6.2" text-anchor="start" fill="#000" textLength="62.8" lengthAdjust="spacingAndGlyphs" stroke="#000" stroke-width="0.3">クレッシェンド投資法人</text>
<rect x="823.5" y="582.5" width="3.5" height="3.5" fill="#0000FF" stroke="#000" stroke-width="1"/>
<text x="828.9" y="585.65" font-size="6.2" text-anchor="start" fill="#000" textLength="97.5" lengthAdjust="spacingAndGlyphs" stroke="#000" stroke-width="0.3">日本ロジスティクスファンド投資法人</text>
<rect x="823.5" y="592.5" width="3.5" height="3.5" fill="#00CCFF" stroke="#000" stroke-width="1"/>
<text x="828.9" y="595.70" font-size="6.2" text-anchor="start" fill="#000" textLength="52.4" lengthAdjust="spacingAndGlyphs" stroke="#000" stroke-width="0.3">福岡リート投資法人</text>
<rect x="823.5" y="602.5" width="3.5" height="3.5" fill="#CCFFFF" stroke="#000" stroke-width="1"/>
<text x="828.9" y="605.75" font-size="6.2" text-anchor="start" fill="#000" textLength="102.7" lengthAdjust="spacingAndGlyphs" stroke="#000" stroke-width="0.3">プロスペクト・レジデンシャル投資法人</text>
<rect x="823.5" y="612.5" width="3.5" height="3.5" fill="#CCFFCC" stroke="#000" stroke-width="1"/>
<text x="828.9" y="615.80" font-size="6.2" text-anchor="start" fill="#000" textLength="103.4" lengthAdjust="spacingAndGlyphs" stroke="#000" stroke-width="0.3">ジャパン・シングルレジデンス投資法人</text>
<rect x="823.5" y="622.5" width="3.5" height="3.5" fill="#FFFF99" stroke="#000" stroke-width="1"/>
<text x="828.9" y="625.85" font-size="6.2" text-anchor="start" fill="#000" textLength="77.5" lengthAdjust="spacingAndGlyphs" stroke="#000" stroke-width="0.3">ケネディクス不動産投資法人</text>
<rect x="823.5" y="632.5" width="3.5" height="3.5" fill="#99CCFF" stroke="#000" stroke-width="1"/>
<text x="828.9" y="635.90" font-size="6.2" text-anchor="start" fill="#000" textLength="72.4" lengthAdjust="spacingAndGlyphs" stroke="#000" stroke-width="0.3">ジョイント・リート投資法人</text>
<rect x="823.5" y="642.5" width="3.5" height="3.5" fill="#FF99CC" stroke="#000" stroke-width="1"/>
<text x="828.9" y="645.95" font-size="6.2" text-anchor="start" fill="#000" textLength="76.8" lengthAdjust="spacingAndGlyphs" stroke="#000" stroke-width="0.3">ラサール ジャパン投資法人</text>
<rect x="823.5" y="652.5" width="3.5" height="3.5" fill="#CC99FF" stroke="#000" stroke-width="1"/>
<text x="828.9" y="656.00" font-size="6.2" text-anchor="start" fill="#000" textLength="73.9" lengthAdjust="spacingAndGlyphs" stroke="#000" stroke-width="0.3">FCレジデンシャル投資法人</text>
<rect x="823.5" y="662.5" width="3.5" height="3.5" fill="#FFCC99" stroke="#000" stroke-width="1"/>
<text x="828.9" y="666.05" font-size="6.2" text-anchor="start" fill="#000" textLength="54.7" lengthAdjust="spacingAndGlyphs" stroke="#000" stroke-width="0.3">DAオフィス投資法人</text>
<rect x="823.5" y="672.5" width="3.5" height="3.5" fill="#3366FF" stroke="#000" stroke-width="1"/>
<text x="828.9" y="676.10" font-size="6.2" text-anchor="start" fill="#000" textLength="52.9" lengthAdjust="spacingAndGlyphs" stroke="#000" stroke-width="0.3">阪急リート投資法人</text>
<rect x="823.5" y="682.5" width="3.5" height="3.5" fill="#33CCCC" stroke="#000" stroke-width="1"/>
<text x="828.9" y="686.15" font-size="6.2" text-anchor="start" fill="#000" textLength="84.2" lengthAdjust="spacingAndGlyphs" stroke="#000" stroke-width="0.3">アドバンス・レジデンス投資法人</text>
<rect x="823.5" y="692.5" width="3.5" height="3.5" fill="#99CC00" stroke="#000" stroke-width="1"/>
<text x="828.9" y="696.20" font-size="6.2" text-anchor="start" fill="#000" textLength="60.6" lengthAdjust="spacingAndGlyphs" stroke="#000" stroke-width="0.3">エルシーピー投資法人</text>
<rect x="823.5" y="702.5" width="3.5" height="3.5" fill="#FFCC00" stroke="#000" stroke-width="1"/>
<text x="828.9" y="706.25" font-size="6.2" text-anchor="start" fill="#000" textLength="112.3" lengthAdjust="spacingAndGlyphs" stroke="#000" stroke-width="0.3">ジャパン・ホテル・アンド・リゾート投資法人</text>
<rect x="823.5" y="712.5" width="3.5" height="3.5" fill="#FF9900" stroke="#000" stroke-width="1"/>
<text x="828.9" y="716.30" font-size="6.2" text-anchor="start" fill="#000" textLength="54.7" lengthAdjust="spacingAndGlyphs" stroke="#000" stroke-width="0.3">トップリート投資法人</text>
<rect x="823.5" y="723.5" width="3.5" height="3.5" fill="#FF6600" stroke="#000" stroke-width="1"/>
<text x="828.9" y="726.35" font-size="6.2" text-anchor="start" fill="#000" textLength="70.6" lengthAdjust="spacingAndGlyphs" stroke="#000" stroke-width="0.3">クリード・オフィス投資法人</text>
<rect x="823.5" y="733.5" width="3.5" height="3.5" fill="#666699" stroke="#000" stroke-width="1"/>
<text x="828.9" y="736.40" font-size="6.2" text-anchor="start" fill="#000" textLength="52.9" lengthAdjust="spacingAndGlyphs" stroke="#000" stroke-width="0.3">ビ・ライフ投資法人</text>
<rect x="823.5" y="743.5" width="3.5" height="3.5" fill="#969696" stroke="#000" stroke-width="1"/>
<text x="828.9" y="746.45" font-size="6.2" text-anchor="start" fill="#000" textLength="76.8" lengthAdjust="spacingAndGlyphs" stroke="#000" stroke-width="0.3">日本ホテルファンド投資法人</text>
<rect x="823.5" y="753.5" width="3.5" height="3.5" fill="#003366" stroke="#000" stroke-width="1"/>
<text x="828.9" y="756.50" font-size="6.2" text-anchor="start" fill="#000" textLength="62.8" lengthAdjust="spacingAndGlyphs" stroke="#000" stroke-width="0.3">日本賃貸住宅投資法人</text>
<rect x="823.5" y="763.5" width="3.5" height="3.5" fill="#339966" stroke="#000" stroke-width="1"/>
<text x="828.9" y="766.55" font-size="6.2" text-anchor="start" fill="#000" textLength="81" lengthAdjust="spacingAndGlyphs" stroke="#000" stroke-width="0.3">ジャパンエクセレント投資法人</text>
<rect x="823.5" y="773.5" width="3.5" height="3.5" fill="#003300" stroke="#000" stroke-width="1"/>
<text x="828.9" y="776.60" font-size="6.2" text-anchor="start" fill="#000" textLength="106.4" lengthAdjust="spacingAndGlyphs" stroke="#000" stroke-width="0.3">日本アコモデーションファンド投資法人</text>
<rect x="823.5" y="783.5" width="3.5" height="3.5" fill="#333300" stroke="#000" stroke-width="1"/>
<text x="828.9" y="786.65" font-size="6.2" text-anchor="start" fill="#000" textLength="52.9" lengthAdjust="spacingAndGlyphs" stroke="#000" stroke-width="0.3">MIDリート投資法人</text>
<rect x="823.5" y="793.5" width="3.5" height="3.5" fill="#993300" stroke="#000" stroke-width="1"/>
<text x="828.9" y="796.70" font-size="6.2" text-anchor="start" fill="#000" textLength="71.2" lengthAdjust="spacingAndGlyphs" stroke="#000" stroke-width="0.3">日本コマーシャル投資法人</text>
<rect x="823.5" y="803.5" width="3.5" height="3.5" fill="#993366" stroke="#000" stroke-width="1"/>
<text x="828.9" y="806.75" font-size="6.2" text-anchor="start" fill="#000" textLength="63.5" lengthAdjust="spacingAndGlyphs" stroke="#000" stroke-width="0.3">森ヒルズリート投資法人</text>
<rect x="823.5" y="813.5" width="3.5" height="3.5" fill="#333399" stroke="#000" stroke-width="1"/>
<text x="828.9" y="816.80" font-size="6.2" text-anchor="start" fill="#000" textLength="96.8" lengthAdjust="spacingAndGlyphs" stroke="#000" stroke-width="0.3">野村不動産レジデンシャル投資法人</text>
<rect x="823.5" y="823.5" width="3.5" height="3.5" fill="#333333" stroke="#000" stroke-width="1"/>
<text x="828.9" y="826.85" font-size="6.2" text-anchor="start" fill="#000" textLength="59.8" lengthAdjust="spacingAndGlyphs" stroke="#000" stroke-width="0.3">産業ファンド投資法人</text>
<rect x="823.5" y="833.5" width="3.5" height="3.5" fill="#000000" stroke="#000" stroke-width="1"/>
<text x="828.9" y="836.90" font-size="6.2" text-anchor="start" fill="#000" textLength="75.3" lengthAdjust="spacingAndGlyphs" stroke="#000" stroke-width="0.3">スターツプロシード投資法人</text>
</g>
</svg>
</body>
</html>
